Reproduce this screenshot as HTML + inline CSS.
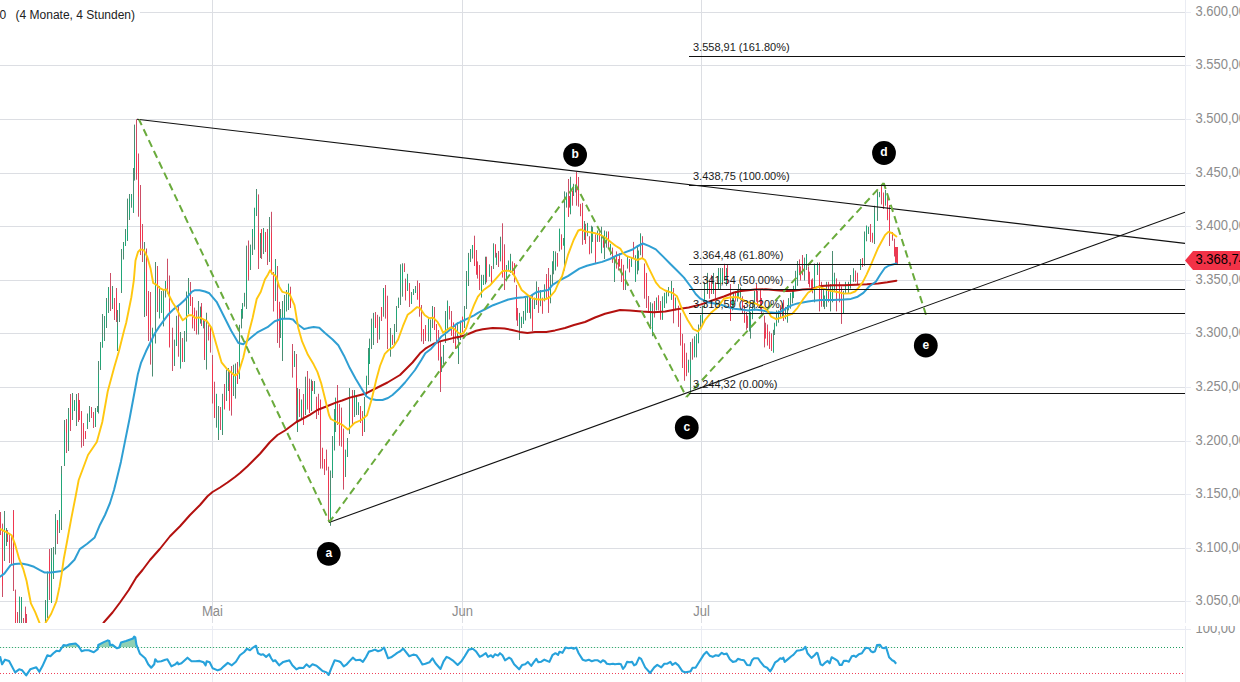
<!DOCTYPE html>
<html><head><meta charset="utf-8"><style>
html,body{margin:0;padding:0;background:#fff;}
body{width:1240px;height:682px;overflow:hidden;}
svg{display:block;}
text{font-family:"Liberation Sans",sans-serif;}
.ax{font-size:13px;fill:#8c8c8c;}
.fib{font-size:11px;fill:#1a1a1a;}
.lbl{font-size:12px;font-weight:bold;fill:#fff;}
.lg{font-size:12px;fill:#222;}
.pt{font-size:13px;fill:#000;}
</style></head><body>
<svg width="1240" height="682" viewBox="0 0 1240 682">
<defs><clipPath id="cm"><rect x="0" y="0" width="1185" height="623"/></clipPath></defs>
<rect width="1240" height="682" fill="#fff"/>
<rect x="0" y="12" width="1185" height="1" fill="#dcdee3"/>
<rect x="1186" y="12" width="5" height="1" fill="#eaecf3"/>
<rect x="0" y="65" width="1185" height="1" fill="#dcdee3"/>
<rect x="1186" y="65" width="5" height="1" fill="#eaecf3"/>
<rect x="0" y="119" width="1185" height="1" fill="#dcdee3"/>
<rect x="1186" y="119" width="5" height="1" fill="#eaecf3"/>
<rect x="0" y="173" width="1185" height="1" fill="#dcdee3"/>
<rect x="1186" y="173" width="5" height="1" fill="#eaecf3"/>
<rect x="0" y="226" width="1185" height="1" fill="#dcdee3"/>
<rect x="1186" y="226" width="5" height="1" fill="#eaecf3"/>
<rect x="0" y="280" width="1185" height="1" fill="#dcdee3"/>
<rect x="1186" y="280" width="5" height="1" fill="#eaecf3"/>
<rect x="0" y="333" width="1185" height="1" fill="#dcdee3"/>
<rect x="1186" y="333" width="5" height="1" fill="#eaecf3"/>
<rect x="0" y="387" width="1185" height="1" fill="#dcdee3"/>
<rect x="1186" y="387" width="5" height="1" fill="#eaecf3"/>
<rect x="0" y="441" width="1185" height="1" fill="#dcdee3"/>
<rect x="1186" y="441" width="5" height="1" fill="#eaecf3"/>
<rect x="0" y="494" width="1185" height="1" fill="#dcdee3"/>
<rect x="1186" y="494" width="5" height="1" fill="#eaecf3"/>
<rect x="0" y="548" width="1185" height="1" fill="#dcdee3"/>
<rect x="1186" y="548" width="5" height="1" fill="#eaecf3"/>
<rect x="0" y="601" width="1185" height="1" fill="#dcdee3"/>
<rect x="1186" y="601" width="5" height="1" fill="#eaecf3"/>
<rect x="212" y="0" width="1" height="623" fill="#dcdee3"/>
<rect x="212" y="626" width="1" height="56" fill="#eaecf3"/>
<rect x="462" y="0" width="1" height="623" fill="#dcdee3"/>
<rect x="462" y="626" width="1" height="56" fill="#eaecf3"/>
<rect x="701" y="0" width="1" height="623" fill="#dcdee3"/>
<rect x="701" y="626" width="1" height="56" fill="#eaecf3"/>
<text transform="translate(212.5 616) scale(1 1.08)" text-anchor="middle" class="ax">Mai</text>
<text transform="translate(462.5 616) scale(1 1.08)" text-anchor="middle" class="ax">Jun</text>
<text transform="translate(701.5 616) scale(1 1.08)" text-anchor="middle" class="ax">Jul</text>
<g clip-path="url(#cm)">
<rect x="0" y="512" width="1" height="23" fill="#cc4e66"/>
<rect x="0" y="518.74" width="1" height="10.95" fill="#f03650"/>
<rect x="2" y="523.6" width="1" height="73.4" fill="#cc4e66"/>
<rect x="2" y="533.44" width="1" height="52.27" fill="#f03650"/>
<rect x="4" y="511" width="1" height="50" fill="#4c8c72"/>
<rect x="4" y="525.57" width="1" height="25.2" fill="#21a677"/>
<rect x="6" y="528" width="1" height="18" fill="#4c8c72"/>
<rect x="6" y="534.06" width="1" height="6.16" fill="#21a677"/>
<rect x="7" y="530" width="1" height="12" fill="#cc4e66"/>
<rect x="7" y="534.14" width="1" height="6.78" fill="#f03650"/>
<rect x="9" y="534" width="1" height="29" fill="#cc4e66"/>
<rect x="9" y="540.18" width="1" height="8.61" fill="#f03650"/>
<rect x="11" y="536" width="1" height="29" fill="#cc4e66"/>
<rect x="11" y="552.55" width="1" height="8.56" fill="#f03650"/>
<rect x="13" y="510" width="1" height="81" fill="#cc4e66"/>
<rect x="13" y="511.37" width="1" height="48.33" fill="#f03650"/>
<rect x="15" y="589.6" width="1" height="33.4" fill="#cc4e66"/>
<rect x="15" y="597.94" width="1" height="24.75" fill="#f03650"/>
<rect x="17" y="612" width="1" height="11" fill="#cc4e66"/>
<rect x="17" y="614.86" width="1" height="6.35" fill="#f03650"/>
<rect x="19" y="596.6" width="1" height="26.4" fill="#4c8c72"/>
<rect x="19" y="596.87" width="1" height="8.68" fill="#21a677"/>
<rect x="21" y="597" width="1" height="26" fill="#4c8c72"/>
<rect x="21" y="597.75" width="1" height="13.37" fill="#21a677"/>
<rect x="23" y="618" width="1" height="5" fill="#cc4e66"/>
<rect x="23" y="618.79" width="1" height="1.73" fill="#f03650"/>
<rect x="25" y="606.6" width="1" height="16.4" fill="#cc4e66"/>
<rect x="25" y="612.19" width="1" height="4.35" fill="#f03650"/>
<rect x="26" y="614" width="1" height="9" fill="#cc4e66"/>
<rect x="26" y="618.02" width="1" height="4.23" fill="#f03650"/>
<rect x="45" y="600" width="1" height="23" fill="#4c8c72"/>
<rect x="45" y="607.22" width="1" height="11.72" fill="#21a677"/>
<rect x="47" y="571.5" width="1" height="46.5" fill="#4c8c72"/>
<rect x="47" y="586.91" width="1" height="23.24" fill="#21a677"/>
<rect x="49" y="549" width="1" height="51" fill="#cc4e66"/>
<rect x="49" y="556.4" width="1" height="24.41" fill="#f03650"/>
<rect x="51" y="548" width="1" height="55" fill="#4c8c72"/>
<rect x="51" y="561.75" width="1" height="41.19" fill="#21a677"/>
<rect x="53" y="547" width="1" height="32" fill="#4c8c72"/>
<rect x="53" y="554.47" width="1" height="21.44" fill="#21a677"/>
<rect x="55" y="514" width="1" height="40.5" fill="#4c8c72"/>
<rect x="55" y="519.51" width="1" height="16.51" fill="#21a677"/>
<rect x="57" y="520" width="1" height="24" fill="#cc4e66"/>
<rect x="57" y="521.02" width="1" height="9.47" fill="#f03650"/>
<rect x="59" y="510" width="1" height="23" fill="#4c8c72"/>
<rect x="59" y="513.38" width="1" height="14.56" fill="#21a677"/>
<rect x="61" y="466" width="1" height="64" fill="#4c8c72"/>
<rect x="61" y="474.08" width="1" height="43.09" fill="#21a677"/>
<rect x="64" y="420" width="1" height="46" fill="#4c8c72"/>
<rect x="64" y="430.56" width="1" height="33.53" fill="#21a677"/>
<rect x="66" y="419" width="1" height="34" fill="#cc4e66"/>
<rect x="66" y="424.35" width="1" height="8.51" fill="#f03650"/>
<rect x="68" y="408" width="1" height="43" fill="#4c8c72"/>
<rect x="68" y="413.96" width="1" height="30.32" fill="#21a677"/>
<rect x="70" y="394" width="1" height="37" fill="#cc4e66"/>
<rect x="70" y="397.82" width="1" height="27.39" fill="#f03650"/>
<rect x="72" y="393" width="1" height="27" fill="#4c8c72"/>
<rect x="72" y="405.13" width="1" height="7.74" fill="#21a677"/>
<rect x="74" y="400" width="1" height="11" fill="#4c8c72"/>
<rect x="74" y="401.07" width="1" height="7.03" fill="#21a677"/>
<rect x="76" y="394" width="1" height="32" fill="#4c8c72"/>
<rect x="76" y="401.52" width="1" height="9.39" fill="#21a677"/>
<rect x="78" y="393" width="1" height="29" fill="#cc4e66"/>
<rect x="78" y="398.89" width="1" height="21.23" fill="#f03650"/>
<rect x="79" y="400" width="1" height="20" fill="#cc4e66"/>
<rect x="79" y="403.41" width="1" height="6.18" fill="#f03650"/>
<rect x="81" y="411" width="1" height="36.6" fill="#cc4e66"/>
<rect x="81" y="412.53" width="1" height="11" fill="#f03650"/>
<rect x="83" y="423" width="1" height="23" fill="#cc4e66"/>
<rect x="83" y="424.44" width="1" height="14.92" fill="#f03650"/>
<rect x="85" y="431" width="1" height="8" fill="#cc4e66"/>
<rect x="85" y="432.68" width="1" height="4.24" fill="#f03650"/>
<rect x="87" y="413.5" width="1" height="15.5" fill="#4c8c72"/>
<rect x="87" y="420.93" width="1" height="5.35" fill="#21a677"/>
<rect x="89" y="406" width="1" height="16" fill="#4c8c72"/>
<rect x="89" y="413.05" width="1" height="5.05" fill="#21a677"/>
<rect x="91" y="407" width="1" height="11" fill="#cc4e66"/>
<rect x="91" y="410.2" width="1" height="3.39" fill="#f03650"/>
<rect x="93" y="412" width="1" height="16" fill="#cc4e66"/>
<rect x="93" y="414.78" width="1" height="5.7" fill="#f03650"/>
<rect x="95" y="408" width="1" height="19" fill="#4c8c72"/>
<rect x="95" y="412.04" width="1" height="13.97" fill="#21a677"/>
<rect x="97" y="406" width="1" height="6" fill="#4c8c72"/>
<rect x="97" y="409.17" width="1" height="2.41" fill="#21a677"/>
<rect x="98" y="361" width="1" height="52.5" fill="#4c8c72"/>
<rect x="98" y="374.34" width="1" height="18.66" fill="#21a677"/>
<rect x="100" y="342" width="1" height="28" fill="#4c8c72"/>
<rect x="100" y="347.8" width="1" height="18.96" fill="#21a677"/>
<rect x="102" y="314" width="1" height="33.6" fill="#4c8c72"/>
<rect x="102" y="337.26" width="1" height="10.09" fill="#21a677"/>
<rect x="104" y="316" width="1" height="25" fill="#4c8c72"/>
<rect x="104" y="320.15" width="1" height="8.92" fill="#21a677"/>
<rect x="106" y="298" width="1" height="30" fill="#4c8c72"/>
<rect x="106" y="301.59" width="1" height="19.09" fill="#21a677"/>
<rect x="108" y="287" width="1" height="26" fill="#4c8c72"/>
<rect x="108" y="288.15" width="1" height="10.35" fill="#21a677"/>
<rect x="110" y="273" width="1" height="38" fill="#cc4e66"/>
<rect x="110" y="288.61" width="1" height="11.21" fill="#f03650"/>
<rect x="112" y="286" width="1" height="23" fill="#4c8c72"/>
<rect x="112" y="294.69" width="1" height="8.54" fill="#21a677"/>
<rect x="114" y="298" width="1" height="22" fill="#cc4e66"/>
<rect x="114" y="303.62" width="1" height="9.59" fill="#f03650"/>
<rect x="116" y="288" width="1" height="34" fill="#cc4e66"/>
<rect x="116" y="292.45" width="1" height="24.81" fill="#f03650"/>
<rect x="117" y="310" width="1" height="41" fill="#4c8c72"/>
<rect x="117" y="326.44" width="1" height="22.03" fill="#21a677"/>
<rect x="119" y="303" width="1" height="19" fill="#4c8c72"/>
<rect x="119" y="304.93" width="1" height="6.49" fill="#21a677"/>
<rect x="121" y="249" width="1" height="44" fill="#4c8c72"/>
<rect x="121" y="259.64" width="1" height="30.99" fill="#21a677"/>
<rect x="123" y="242" width="1" height="17.5" fill="#4c8c72"/>
<rect x="123" y="244.08" width="1" height="6.56" fill="#21a677"/>
<rect x="125" y="229" width="1" height="17" fill="#4c8c72"/>
<rect x="125" y="235.08" width="1" height="10.54" fill="#21a677"/>
<rect x="127" y="198.6" width="1" height="42.4" fill="#4c8c72"/>
<rect x="127" y="224.85" width="1" height="14.77" fill="#21a677"/>
<rect x="129" y="194" width="1" height="26" fill="#4c8c72"/>
<rect x="129" y="198.85" width="1" height="17.97" fill="#21a677"/>
<rect x="131" y="194" width="1" height="13.7" fill="#4c8c72"/>
<rect x="131" y="194.77" width="1" height="6.31" fill="#21a677"/>
<rect x="133" y="168" width="1" height="45" fill="#4c8c72"/>
<rect x="133" y="199.65" width="1" height="12.12" fill="#21a677"/>
<rect x="134" y="124.6" width="1" height="56" fill="#4c8c72"/>
<rect x="134" y="149.49" width="1" height="20.68" fill="#21a677"/>
<rect x="136" y="119.2" width="1" height="60.5" fill="#cc4e66"/>
<rect x="136" y="150.17" width="1" height="22.9" fill="#f03650"/>
<rect x="138" y="153.5" width="1" height="63.2" fill="#cc4e66"/>
<rect x="138" y="161.88" width="1" height="34.65" fill="#f03650"/>
<rect x="140" y="185" width="1" height="70" fill="#cc4e66"/>
<rect x="140" y="218.4" width="1" height="23.64" fill="#f03650"/>
<rect x="142" y="224" width="1" height="38" fill="#cc4e66"/>
<rect x="142" y="230.21" width="1" height="10.81" fill="#f03650"/>
<rect x="144" y="242" width="1" height="75" fill="#4c8c72"/>
<rect x="144" y="272.07" width="1" height="39.73" fill="#21a677"/>
<rect x="146" y="248.5" width="1" height="67.5" fill="#cc4e66"/>
<rect x="146" y="256.88" width="1" height="37.61" fill="#f03650"/>
<rect x="148" y="291" width="1" height="50" fill="#cc4e66"/>
<rect x="148" y="293.97" width="1" height="35.43" fill="#f03650"/>
<rect x="150" y="292" width="1" height="72.6" fill="#cc4e66"/>
<rect x="150" y="306.5" width="1" height="18.75" fill="#f03650"/>
<rect x="152" y="327.7" width="1" height="48.8" fill="#4c8c72"/>
<rect x="152" y="329.26" width="1" height="23.08" fill="#21a677"/>
<rect x="155" y="262" width="1" height="81.5" fill="#4c8c72"/>
<rect x="155" y="281.89" width="1" height="27.56" fill="#21a677"/>
<rect x="157" y="266" width="1" height="46" fill="#cc4e66"/>
<rect x="157" y="268.81" width="1" height="24.66" fill="#f03650"/>
<rect x="159" y="286" width="1" height="32.5" fill="#4c8c72"/>
<rect x="159" y="302.47" width="1" height="14.01" fill="#21a677"/>
<rect x="161" y="291" width="1" height="22" fill="#4c8c72"/>
<rect x="161" y="294.75" width="1" height="16.29" fill="#21a677"/>
<rect x="163" y="289" width="1" height="37.4" fill="#4c8c72"/>
<rect x="163" y="297.84" width="1" height="22.28" fill="#21a677"/>
<rect x="165" y="281" width="1" height="16.5" fill="#4c8c72"/>
<rect x="165" y="281.39" width="1" height="5.28" fill="#21a677"/>
<rect x="167" y="258.7" width="1" height="35.3" fill="#cc4e66"/>
<rect x="167" y="282.51" width="1" height="9.14" fill="#f03650"/>
<rect x="169" y="275.5" width="1" height="72" fill="#cc4e66"/>
<rect x="169" y="303.19" width="1" height="43.23" fill="#f03650"/>
<rect x="172" y="327.7" width="1" height="43.3" fill="#cc4e66"/>
<rect x="172" y="348.07" width="1" height="11.29" fill="#f03650"/>
<rect x="174" y="339.6" width="1" height="26.4" fill="#4c8c72"/>
<rect x="174" y="349.41" width="1" height="12.97" fill="#21a677"/>
<rect x="176" y="315.8" width="1" height="30.2" fill="#4c8c72"/>
<rect x="176" y="333.62" width="1" height="12.37" fill="#21a677"/>
<rect x="178" y="306" width="1" height="50.7" fill="#cc4e66"/>
<rect x="178" y="325.72" width="1" height="14.58" fill="#f03650"/>
<rect x="180" y="332" width="1" height="36.6" fill="#4c8c72"/>
<rect x="180" y="344.57" width="1" height="22.64" fill="#21a677"/>
<rect x="182" y="338" width="1" height="24" fill="#cc4e66"/>
<rect x="182" y="344.44" width="1" height="14.85" fill="#f03650"/>
<rect x="184" y="331" width="1" height="31" fill="#4c8c72"/>
<rect x="184" y="341.02" width="1" height="20.05" fill="#21a677"/>
<rect x="186" y="291.5" width="1" height="50.1" fill="#4c8c72"/>
<rect x="186" y="311.21" width="1" height="21.34" fill="#21a677"/>
<rect x="188" y="278" width="1" height="36" fill="#4c8c72"/>
<rect x="188" y="287.39" width="1" height="25.22" fill="#21a677"/>
<rect x="190" y="282" width="1" height="24" fill="#cc4e66"/>
<rect x="190" y="292.27" width="1" height="11.01" fill="#f03650"/>
<rect x="192" y="297" width="1" height="31.4" fill="#cc4e66"/>
<rect x="192" y="302.72" width="1" height="21.41" fill="#f03650"/>
<rect x="194" y="307.6" width="1" height="23.4" fill="#cc4e66"/>
<rect x="194" y="311.51" width="1" height="13.16" fill="#f03650"/>
<rect x="196" y="310.5" width="1" height="24" fill="#cc4e66"/>
<rect x="196" y="317.2" width="1" height="12.99" fill="#f03650"/>
<rect x="198" y="301" width="1" height="33.5" fill="#4c8c72"/>
<rect x="198" y="316.21" width="1" height="9.72" fill="#21a677"/>
<rect x="200" y="306.6" width="1" height="17" fill="#4c8c72"/>
<rect x="200" y="310.39" width="1" height="12.69" fill="#21a677"/>
<rect x="201" y="303" width="1" height="23" fill="#cc4e66"/>
<rect x="201" y="306.45" width="1" height="14.12" fill="#f03650"/>
<rect x="203" y="320" width="1" height="8.4" fill="#4c8c72"/>
<rect x="203" y="321.87" width="1" height="5.19" fill="#21a677"/>
<rect x="204" y="321" width="1" height="39" fill="#cc4e66"/>
<rect x="204" y="338.32" width="1" height="18.34" fill="#f03650"/>
<rect x="206" y="312.7" width="1" height="56.9" fill="#4c8c72"/>
<rect x="206" y="342.93" width="1" height="16.61" fill="#21a677"/>
<rect x="208" y="324.8" width="1" height="15.7" fill="#cc4e66"/>
<rect x="208" y="331.74" width="1" height="4.16" fill="#f03650"/>
<rect x="210" y="326" width="1" height="26.6" fill="#cc4e66"/>
<rect x="210" y="329.12" width="1" height="13.05" fill="#f03650"/>
<rect x="212" y="355" width="1" height="48.5" fill="#cc4e66"/>
<rect x="212" y="364.67" width="1" height="29.06" fill="#f03650"/>
<rect x="214" y="381.7" width="1" height="36.3" fill="#cc4e66"/>
<rect x="214" y="396.49" width="1" height="20.23" fill="#f03650"/>
<rect x="216" y="393.8" width="1" height="33.9" fill="#4c8c72"/>
<rect x="216" y="394.04" width="1" height="12.81" fill="#21a677"/>
<rect x="218" y="406" width="1" height="34" fill="#4c8c72"/>
<rect x="218" y="419.82" width="1" height="13.62" fill="#21a677"/>
<rect x="220" y="407" width="1" height="23" fill="#cc4e66"/>
<rect x="220" y="409.53" width="1" height="8.08" fill="#f03650"/>
<rect x="222" y="393.8" width="1" height="41.2" fill="#4c8c72"/>
<rect x="222" y="401.88" width="1" height="28.96" fill="#21a677"/>
<rect x="224" y="384" width="1" height="25.5" fill="#cc4e66"/>
<rect x="224" y="396.03" width="1" height="12.01" fill="#f03650"/>
<rect x="226" y="369.6" width="1" height="31.4" fill="#4c8c72"/>
<rect x="226" y="381.86" width="1" height="12.98" fill="#21a677"/>
<rect x="228" y="368" width="1" height="23" fill="#4c8c72"/>
<rect x="228" y="374.45" width="1" height="8.03" fill="#21a677"/>
<rect x="229" y="371" width="1" height="39.7" fill="#cc4e66"/>
<rect x="229" y="383.59" width="1" height="25.92" fill="#f03650"/>
<rect x="231" y="366" width="1" height="49.6" fill="#cc4e66"/>
<rect x="231" y="371.91" width="1" height="34.23" fill="#f03650"/>
<rect x="233" y="364.7" width="1" height="31.3" fill="#4c8c72"/>
<rect x="233" y="369.24" width="1" height="16.95" fill="#21a677"/>
<rect x="235" y="363.5" width="1" height="35.1" fill="#4c8c72"/>
<rect x="235" y="375.38" width="1" height="11.16" fill="#21a677"/>
<rect x="237" y="362" width="1" height="22" fill="#cc4e66"/>
<rect x="237" y="368.19" width="1" height="14.71" fill="#f03650"/>
<rect x="239" y="324.8" width="1" height="54.2" fill="#4c8c72"/>
<rect x="239" y="345.11" width="1" height="32.82" fill="#21a677"/>
<rect x="241" y="309" width="1" height="19.4" fill="#4c8c72"/>
<rect x="241" y="311.01" width="1" height="7.53" fill="#21a677"/>
<rect x="242" y="303" width="1" height="15.7" fill="#4c8c72"/>
<rect x="242" y="305.27" width="1" height="7.46" fill="#21a677"/>
<rect x="244" y="292.8" width="1" height="13.8" fill="#4c8c72"/>
<rect x="244" y="296.47" width="1" height="4.93" fill="#21a677"/>
<rect x="246" y="245.6" width="1" height="63.4" fill="#4c8c72"/>
<rect x="246" y="259.29" width="1" height="35.69" fill="#21a677"/>
<rect x="248" y="240.5" width="1" height="40" fill="#cc4e66"/>
<rect x="248" y="260.38" width="1" height="16.31" fill="#f03650"/>
<rect x="250" y="244.6" width="1" height="25.4" fill="#4c8c72"/>
<rect x="250" y="247.58" width="1" height="18.82" fill="#21a677"/>
<rect x="252" y="229" width="1" height="26" fill="#4c8c72"/>
<rect x="252" y="229.58" width="1" height="7.47" fill="#21a677"/>
<rect x="254" y="207.7" width="1" height="42" fill="#4c8c72"/>
<rect x="254" y="208.25" width="1" height="28.83" fill="#21a677"/>
<rect x="256" y="189" width="1" height="27" fill="#4c8c72"/>
<rect x="256" y="195.1" width="1" height="16.32" fill="#21a677"/>
<rect x="258" y="194.4" width="1" height="74.6" fill="#cc4e66"/>
<rect x="258" y="229.56" width="1" height="30.18" fill="#f03650"/>
<rect x="260" y="233" width="1" height="25" fill="#4c8c72"/>
<rect x="260" y="235.52" width="1" height="6.49" fill="#21a677"/>
<rect x="261" y="229" width="1" height="30" fill="#cc4e66"/>
<rect x="261" y="229.39" width="1" height="14.32" fill="#f03650"/>
<rect x="263" y="228" width="1" height="26" fill="#4c8c72"/>
<rect x="263" y="230.07" width="1" height="17.29" fill="#21a677"/>
<rect x="265" y="232" width="1" height="20" fill="#cc4e66"/>
<rect x="265" y="232.64" width="1" height="6.41" fill="#f03650"/>
<rect x="267" y="229" width="1" height="36" fill="#cc4e66"/>
<rect x="267" y="236" width="1" height="20.33" fill="#f03650"/>
<rect x="269" y="217" width="1" height="45" fill="#4c8c72"/>
<rect x="269" y="229.82" width="1" height="25.42" fill="#21a677"/>
<rect x="271" y="211.8" width="1" height="62.6" fill="#cc4e66"/>
<rect x="271" y="232.58" width="1" height="40.92" fill="#f03650"/>
<rect x="273" y="272" width="1" height="39.5" fill="#cc4e66"/>
<rect x="273" y="275.21" width="1" height="23.39" fill="#f03650"/>
<rect x="275" y="259" width="1" height="42" fill="#4c8c72"/>
<rect x="275" y="262.85" width="1" height="20.48" fill="#21a677"/>
<rect x="277" y="266" width="1" height="77" fill="#cc4e66"/>
<rect x="277" y="293.07" width="1" height="19.66" fill="#f03650"/>
<rect x="279" y="301.8" width="1" height="46" fill="#cc4e66"/>
<rect x="279" y="305.04" width="1" height="27.93" fill="#f03650"/>
<rect x="280" y="309" width="1" height="29" fill="#4c8c72"/>
<rect x="280" y="315.15" width="1" height="11.2" fill="#21a677"/>
<rect x="282" y="301" width="1" height="60" fill="#4c8c72"/>
<rect x="282" y="313.53" width="1" height="35.92" fill="#21a677"/>
<rect x="284" y="295" width="1" height="24" fill="#4c8c72"/>
<rect x="284" y="303.04" width="1" height="13.37" fill="#21a677"/>
<rect x="286" y="290" width="1" height="21.5" fill="#4c8c72"/>
<rect x="286" y="299.42" width="1" height="9.61" fill="#21a677"/>
<rect x="288" y="283.6" width="1" height="26.4" fill="#4c8c72"/>
<rect x="288" y="284.28" width="1" height="18.56" fill="#21a677"/>
<rect x="290" y="286.7" width="1" height="21.3" fill="#cc4e66"/>
<rect x="290" y="291.07" width="1" height="15.26" fill="#f03650"/>
<rect x="292" y="344" width="1" height="33.6" fill="#cc4e66"/>
<rect x="292" y="354.44" width="1" height="10.58" fill="#f03650"/>
<rect x="294" y="351" width="1" height="16" fill="#4c8c72"/>
<rect x="294" y="357.37" width="1" height="9" fill="#21a677"/>
<rect x="296" y="354" width="1" height="67" fill="#cc4e66"/>
<rect x="296" y="375.4" width="1" height="29.37" fill="#f03650"/>
<rect x="297" y="388" width="1" height="44" fill="#4c8c72"/>
<rect x="297" y="398.88" width="1" height="30.35" fill="#21a677"/>
<rect x="299" y="389" width="1" height="28" fill="#cc4e66"/>
<rect x="299" y="392.61" width="1" height="20.22" fill="#f03650"/>
<rect x="301" y="399.5" width="1" height="20.5" fill="#4c8c72"/>
<rect x="301" y="401.28" width="1" height="11.8" fill="#21a677"/>
<rect x="303" y="394" width="1" height="31" fill="#cc4e66"/>
<rect x="303" y="403.87" width="1" height="18.94" fill="#f03650"/>
<rect x="305" y="376.7" width="1" height="38.3" fill="#4c8c72"/>
<rect x="305" y="388.5" width="1" height="21.86" fill="#21a677"/>
<rect x="307" y="371" width="1" height="38.5" fill="#cc4e66"/>
<rect x="307" y="393.29" width="1" height="13.73" fill="#f03650"/>
<rect x="309" y="378.6" width="1" height="34.4" fill="#cc4e66"/>
<rect x="309" y="387.33" width="1" height="25.46" fill="#f03650"/>
<rect x="311" y="379.5" width="1" height="31.5" fill="#4c8c72"/>
<rect x="311" y="391.49" width="1" height="16.33" fill="#21a677"/>
<rect x="312" y="381" width="1" height="10" fill="#cc4e66"/>
<rect x="312" y="386.37" width="1" height="4.1" fill="#f03650"/>
<rect x="314" y="381" width="1" height="13" fill="#4c8c72"/>
<rect x="314" y="382.46" width="1" height="8.81" fill="#21a677"/>
<rect x="316" y="396.7" width="1" height="22.3" fill="#cc4e66"/>
<rect x="316" y="403.67" width="1" height="6.5" fill="#f03650"/>
<rect x="318" y="393.8" width="1" height="21.2" fill="#cc4e66"/>
<rect x="318" y="401.53" width="1" height="11.13" fill="#f03650"/>
<rect x="320" y="399.5" width="1" height="69.1" fill="#cc4e66"/>
<rect x="320" y="400.49" width="1" height="34.12" fill="#f03650"/>
<rect x="322" y="447.7" width="1" height="20.9" fill="#cc4e66"/>
<rect x="322" y="448.16" width="1" height="13.68" fill="#f03650"/>
<rect x="324" y="459" width="1" height="16" fill="#cc4e66"/>
<rect x="324" y="459.97" width="1" height="10.4" fill="#f03650"/>
<rect x="326" y="449.6" width="1" height="20.9" fill="#cc4e66"/>
<rect x="326" y="459.19" width="1" height="8.73" fill="#f03650"/>
<rect x="328" y="466.7" width="1" height="55.3" fill="#cc4e66"/>
<rect x="328" y="472.29" width="1" height="17.71" fill="#f03650"/>
<rect x="330" y="470.5" width="1" height="55.3" fill="#4c8c72"/>
<rect x="330" y="490.18" width="1" height="28.11" fill="#21a677"/>
<rect x="332" y="436" width="1" height="42" fill="#4c8c72"/>
<rect x="332" y="445.56" width="1" height="28.14" fill="#21a677"/>
<rect x="334" y="409" width="1" height="41.5" fill="#4c8c72"/>
<rect x="334" y="414.67" width="1" height="30" fill="#21a677"/>
<rect x="335" y="397.6" width="1" height="34.4" fill="#4c8c72"/>
<rect x="335" y="398.42" width="1" height="24.93" fill="#21a677"/>
<rect x="337" y="385" width="1" height="40" fill="#cc4e66"/>
<rect x="337" y="398.47" width="1" height="14.43" fill="#f03650"/>
<rect x="339" y="404" width="1" height="41.8" fill="#cc4e66"/>
<rect x="339" y="422.43" width="1" height="16.51" fill="#f03650"/>
<rect x="341" y="407.6" width="1" height="39.1" fill="#cc4e66"/>
<rect x="341" y="416.4" width="1" height="22.26" fill="#f03650"/>
<rect x="343" y="428.6" width="1" height="61" fill="#cc4e66"/>
<rect x="343" y="439.81" width="1" height="40.98" fill="#f03650"/>
<rect x="345" y="449.6" width="1" height="27.4" fill="#4c8c72"/>
<rect x="345" y="455.81" width="1" height="11.12" fill="#21a677"/>
<rect x="347" y="438" width="1" height="19" fill="#4c8c72"/>
<rect x="347" y="443.6" width="1" height="12.78" fill="#21a677"/>
<rect x="349" y="388" width="1" height="46" fill="#4c8c72"/>
<rect x="349" y="413.28" width="1" height="16.29" fill="#21a677"/>
<rect x="352" y="390" width="1" height="35" fill="#cc4e66"/>
<rect x="352" y="394.88" width="1" height="25.7" fill="#f03650"/>
<rect x="354" y="390" width="1" height="27" fill="#4c8c72"/>
<rect x="354" y="392.52" width="1" height="14.49" fill="#21a677"/>
<rect x="356" y="395.7" width="1" height="19.3" fill="#4c8c72"/>
<rect x="356" y="400.38" width="1" height="10" fill="#21a677"/>
<rect x="358" y="402.4" width="1" height="12.6" fill="#4c8c72"/>
<rect x="358" y="402.56" width="1" height="6.96" fill="#21a677"/>
<rect x="360" y="406" width="1" height="17" fill="#cc4e66"/>
<rect x="360" y="408.33" width="1" height="12.49" fill="#f03650"/>
<rect x="362" y="411" width="1" height="25" fill="#cc4e66"/>
<rect x="362" y="422.01" width="1" height="11.26" fill="#f03650"/>
<rect x="364" y="397" width="1" height="35" fill="#4c8c72"/>
<rect x="364" y="405.05" width="1" height="18.6" fill="#21a677"/>
<rect x="366" y="375.7" width="1" height="19.3" fill="#4c8c72"/>
<rect x="366" y="376.21" width="1" height="11.49" fill="#21a677"/>
<rect x="368" y="348" width="1" height="37" fill="#4c8c72"/>
<rect x="368" y="355.36" width="1" height="19.22" fill="#21a677"/>
<rect x="369" y="338.6" width="1" height="25.4" fill="#4c8c72"/>
<rect x="369" y="344.97" width="1" height="18.5" fill="#21a677"/>
<rect x="371" y="318.6" width="1" height="30.4" fill="#4c8c72"/>
<rect x="371" y="327.45" width="1" height="11.69" fill="#21a677"/>
<rect x="373" y="312.9" width="1" height="32.1" fill="#4c8c72"/>
<rect x="373" y="322.46" width="1" height="10.06" fill="#21a677"/>
<rect x="375" y="312" width="1" height="16" fill="#cc4e66"/>
<rect x="375" y="316.93" width="1" height="10.53" fill="#f03650"/>
<rect x="377" y="314.8" width="1" height="28.2" fill="#cc4e66"/>
<rect x="377" y="319.38" width="1" height="13.77" fill="#f03650"/>
<rect x="379" y="316.7" width="1" height="22.8" fill="#4c8c72"/>
<rect x="379" y="325.92" width="1" height="7.88" fill="#21a677"/>
<rect x="381" y="307" width="1" height="14" fill="#cc4e66"/>
<rect x="381" y="307.52" width="1" height="9.98" fill="#f03650"/>
<rect x="383" y="288" width="1" height="28.7" fill="#4c8c72"/>
<rect x="383" y="288.24" width="1" height="18.36" fill="#21a677"/>
<rect x="385" y="285" width="1" height="33.6" fill="#cc4e66"/>
<rect x="385" y="289.99" width="1" height="11.66" fill="#f03650"/>
<rect x="387" y="295.7" width="1" height="53.3" fill="#cc4e66"/>
<rect x="387" y="302.68" width="1" height="31.63" fill="#f03650"/>
<rect x="390" y="328" width="1" height="28.7" fill="#4c8c72"/>
<rect x="390" y="338.18" width="1" height="12.27" fill="#21a677"/>
<rect x="392" y="334.8" width="1" height="10.2" fill="#cc4e66"/>
<rect x="392" y="340" width="1" height="3.08" fill="#f03650"/>
<rect x="394" y="324" width="1" height="20" fill="#4c8c72"/>
<rect x="394" y="331.03" width="1" height="6.23" fill="#21a677"/>
<rect x="396" y="306" width="1" height="26" fill="#4c8c72"/>
<rect x="396" y="309.21" width="1" height="9.76" fill="#21a677"/>
<rect x="398" y="297.6" width="1" height="10.4" fill="#4c8c72"/>
<rect x="398" y="299.8" width="1" height="5.36" fill="#21a677"/>
<rect x="400" y="264.3" width="1" height="40.7" fill="#4c8c72"/>
<rect x="400" y="273.76" width="1" height="17.82" fill="#21a677"/>
<rect x="402" y="263.3" width="1" height="33.4" fill="#4c8c72"/>
<rect x="402" y="265.89" width="1" height="17.19" fill="#21a677"/>
<rect x="404" y="263.3" width="1" height="8.7" fill="#cc4e66"/>
<rect x="404" y="266.86" width="1" height="3.06" fill="#f03650"/>
<rect x="405" y="278.6" width="1" height="21.9" fill="#cc4e66"/>
<rect x="405" y="283.6" width="1" height="12.47" fill="#f03650"/>
<rect x="407" y="273.8" width="1" height="17.2" fill="#4c8c72"/>
<rect x="407" y="277.21" width="1" height="11.62" fill="#21a677"/>
<rect x="409" y="283" width="1" height="24" fill="#cc4e66"/>
<rect x="409" y="284.8" width="1" height="16.28" fill="#f03650"/>
<rect x="411" y="292" width="1" height="12" fill="#4c8c72"/>
<rect x="411" y="295.69" width="1" height="7.44" fill="#21a677"/>
<rect x="413" y="289" width="1" height="6" fill="#4c8c72"/>
<rect x="413" y="289.57" width="1" height="4.21" fill="#21a677"/>
<rect x="415" y="286" width="1" height="7" fill="#4c8c72"/>
<rect x="415" y="289.83" width="1" height="2.85" fill="#21a677"/>
<rect x="417" y="280.5" width="1" height="19" fill="#cc4e66"/>
<rect x="417" y="292.66" width="1" height="6.82" fill="#f03650"/>
<rect x="419" y="283" width="1" height="33.7" fill="#cc4e66"/>
<rect x="419" y="284.38" width="1" height="23.38" fill="#f03650"/>
<rect x="421" y="305" width="1" height="36.4" fill="#cc4e66"/>
<rect x="421" y="321.67" width="1" height="13.46" fill="#f03650"/>
<rect x="423" y="329" width="1" height="15" fill="#cc4e66"/>
<rect x="423" y="329.9" width="1" height="5.7" fill="#f03650"/>
<rect x="425" y="325" width="1" height="16" fill="#cc4e66"/>
<rect x="425" y="327.25" width="1" height="10.66" fill="#f03650"/>
<rect x="428" y="318.6" width="1" height="22.8" fill="#4c8c72"/>
<rect x="428" y="319.62" width="1" height="14.71" fill="#21a677"/>
<rect x="430" y="319.5" width="1" height="21.9" fill="#4c8c72"/>
<rect x="430" y="327.73" width="1" height="9.89" fill="#21a677"/>
<rect x="432" y="306" width="1" height="22" fill="#4c8c72"/>
<rect x="432" y="309.28" width="1" height="5.7" fill="#21a677"/>
<rect x="434" y="307" width="1" height="23" fill="#cc4e66"/>
<rect x="434" y="315.57" width="1" height="13.6" fill="#f03650"/>
<rect x="436" y="324" width="1" height="17.4" fill="#cc4e66"/>
<rect x="436" y="324.53" width="1" height="12.77" fill="#f03650"/>
<rect x="438" y="330" width="1" height="30.5" fill="#cc4e66"/>
<rect x="438" y="341.5" width="1" height="15.34" fill="#f03650"/>
<rect x="440" y="341.4" width="1" height="50.6" fill="#cc4e66"/>
<rect x="440" y="358.7" width="1" height="25.37" fill="#f03650"/>
<rect x="441" y="356.7" width="1" height="15.3" fill="#4c8c72"/>
<rect x="441" y="357.41" width="1" height="5.27" fill="#21a677"/>
<rect x="443" y="345" width="1" height="19" fill="#4c8c72"/>
<rect x="443" y="345.5" width="1" height="5.76" fill="#21a677"/>
<rect x="445" y="311" width="1" height="32" fill="#4c8c72"/>
<rect x="445" y="318.81" width="1" height="16.83" fill="#21a677"/>
<rect x="447" y="300.5" width="1" height="29.5" fill="#4c8c72"/>
<rect x="447" y="302.51" width="1" height="15.76" fill="#21a677"/>
<rect x="449" y="306" width="1" height="13.5" fill="#cc4e66"/>
<rect x="449" y="307.81" width="1" height="4.62" fill="#f03650"/>
<rect x="451" y="311" width="1" height="24.7" fill="#cc4e66"/>
<rect x="451" y="319.07" width="1" height="16.55" fill="#f03650"/>
<rect x="453" y="322.4" width="1" height="20.6" fill="#cc4e66"/>
<rect x="453" y="322.96" width="1" height="14.7" fill="#f03650"/>
<rect x="455" y="326" width="1" height="23" fill="#cc4e66"/>
<rect x="455" y="341.74" width="1" height="6.46" fill="#f03650"/>
<rect x="457" y="322.4" width="1" height="17.1" fill="#4c8c72"/>
<rect x="457" y="329.19" width="1" height="8.23" fill="#21a677"/>
<rect x="458" y="335.7" width="1" height="28.3" fill="#4c8c72"/>
<rect x="458" y="343.45" width="1" height="11.7" fill="#21a677"/>
<rect x="460" y="320.5" width="1" height="19.5" fill="#4c8c72"/>
<rect x="460" y="324.63" width="1" height="9.9" fill="#21a677"/>
<rect x="462" y="316.7" width="1" height="15.3" fill="#cc4e66"/>
<rect x="462" y="316.79" width="1" height="8.42" fill="#f03650"/>
<rect x="464" y="306" width="1" height="22" fill="#4c8c72"/>
<rect x="464" y="313.42" width="1" height="13.21" fill="#21a677"/>
<rect x="466" y="271" width="1" height="38" fill="#4c8c72"/>
<rect x="466" y="282.37" width="1" height="12.94" fill="#21a677"/>
<rect x="468" y="252.9" width="1" height="33.1" fill="#4c8c72"/>
<rect x="468" y="258" width="1" height="20.51" fill="#21a677"/>
<rect x="470" y="249" width="1" height="13" fill="#4c8c72"/>
<rect x="470" y="250.4" width="1" height="4.52" fill="#21a677"/>
<rect x="472" y="245" width="1" height="13.6" fill="#4c8c72"/>
<rect x="472" y="245.1" width="1" height="6.89" fill="#21a677"/>
<rect x="474" y="235.7" width="1" height="30.3" fill="#cc4e66"/>
<rect x="474" y="243.07" width="1" height="21.11" fill="#f03650"/>
<rect x="476" y="250" width="1" height="24.8" fill="#cc4e66"/>
<rect x="476" y="258.49" width="1" height="14.94" fill="#f03650"/>
<rect x="477" y="261.4" width="1" height="17.2" fill="#cc4e66"/>
<rect x="477" y="264.43" width="1" height="9.71" fill="#f03650"/>
<rect x="479" y="265" width="1" height="25" fill="#cc4e66"/>
<rect x="479" y="270.68" width="1" height="13.75" fill="#f03650"/>
<rect x="481" y="274.8" width="1" height="22.8" fill="#4c8c72"/>
<rect x="481" y="279.55" width="1" height="16.9" fill="#21a677"/>
<rect x="483" y="274.8" width="1" height="10.2" fill="#4c8c72"/>
<rect x="483" y="280.57" width="1" height="3.87" fill="#21a677"/>
<rect x="485" y="256.7" width="1" height="27.6" fill="#4c8c72"/>
<rect x="485" y="264.81" width="1" height="17.17" fill="#21a677"/>
<rect x="486" y="256.7" width="1" height="25.7" fill="#cc4e66"/>
<rect x="486" y="260.27" width="1" height="16.89" fill="#f03650"/>
<rect x="489" y="264.3" width="1" height="12.4" fill="#4c8c72"/>
<rect x="489" y="267.59" width="1" height="8.66" fill="#21a677"/>
<rect x="491" y="266" width="1" height="17" fill="#cc4e66"/>
<rect x="491" y="271.25" width="1" height="10.16" fill="#f03650"/>
<rect x="493" y="243.3" width="1" height="25.7" fill="#4c8c72"/>
<rect x="493" y="247.13" width="1" height="16.26" fill="#21a677"/>
<rect x="495" y="244.3" width="1" height="13.3" fill="#cc4e66"/>
<rect x="495" y="244.66" width="1" height="8.13" fill="#f03650"/>
<rect x="496" y="252.9" width="1" height="12.1" fill="#4c8c72"/>
<rect x="496" y="256.19" width="1" height="5.09" fill="#21a677"/>
<rect x="498" y="251" width="1" height="16" fill="#cc4e66"/>
<rect x="498" y="255.24" width="1" height="4.08" fill="#f03650"/>
<rect x="500" y="236.7" width="1" height="24.7" fill="#4c8c72"/>
<rect x="500" y="243.34" width="1" height="14.06" fill="#21a677"/>
<rect x="502" y="223.3" width="1" height="54.3" fill="#cc4e66"/>
<rect x="502" y="255.82" width="1" height="19.88" fill="#f03650"/>
<rect x="504" y="244.3" width="1" height="45.7" fill="#cc4e66"/>
<rect x="504" y="250.74" width="1" height="26.65" fill="#f03650"/>
<rect x="506" y="265" width="1" height="16.4" fill="#4c8c72"/>
<rect x="506" y="268.92" width="1" height="9.51" fill="#21a677"/>
<rect x="508" y="260.5" width="1" height="10.5" fill="#4c8c72"/>
<rect x="508" y="262.48" width="1" height="5.42" fill="#21a677"/>
<rect x="510" y="253.8" width="1" height="19.1" fill="#4c8c72"/>
<rect x="510" y="256.87" width="1" height="14.32" fill="#21a677"/>
<rect x="512" y="261.4" width="1" height="13.4" fill="#cc4e66"/>
<rect x="512" y="265.48" width="1" height="8.05" fill="#f03650"/>
<rect x="514" y="263.3" width="1" height="19.1" fill="#cc4e66"/>
<rect x="514" y="263.41" width="1" height="14.13" fill="#f03650"/>
<rect x="516" y="285" width="1" height="35.5" fill="#cc4e66"/>
<rect x="516" y="296.6" width="1" height="19.8" fill="#f03650"/>
<rect x="517" y="308" width="1" height="18" fill="#cc4e66"/>
<rect x="517" y="312.49" width="1" height="6.81" fill="#f03650"/>
<rect x="519" y="312.9" width="1" height="27.1" fill="#4c8c72"/>
<rect x="519" y="316.74" width="1" height="7.46" fill="#21a677"/>
<rect x="521" y="316.7" width="1" height="11.3" fill="#4c8c72"/>
<rect x="521" y="317.33" width="1" height="4.95" fill="#21a677"/>
<rect x="523" y="311" width="1" height="13" fill="#4c8c72"/>
<rect x="523" y="318.35" width="1" height="4.88" fill="#21a677"/>
<rect x="525" y="297.6" width="1" height="22.9" fill="#4c8c72"/>
<rect x="525" y="303.12" width="1" height="12.02" fill="#21a677"/>
<rect x="527" y="294.8" width="1" height="18.1" fill="#4c8c72"/>
<rect x="527" y="297.54" width="1" height="13.28" fill="#21a677"/>
<rect x="529" y="296.7" width="1" height="16.2" fill="#cc4e66"/>
<rect x="529" y="299.31" width="1" height="12.11" fill="#f03650"/>
<rect x="530" y="297.6" width="1" height="21" fill="#4c8c72"/>
<rect x="530" y="298.15" width="1" height="13.75" fill="#21a677"/>
<rect x="532" y="294.8" width="1" height="36.2" fill="#cc4e66"/>
<rect x="532" y="307.2" width="1" height="19.87" fill="#f03650"/>
<rect x="534" y="297.6" width="1" height="11.4" fill="#4c8c72"/>
<rect x="534" y="305.31" width="1" height="3.11" fill="#21a677"/>
<rect x="536" y="281.4" width="1" height="23.6" fill="#4c8c72"/>
<rect x="536" y="288.86" width="1" height="7.79" fill="#21a677"/>
<rect x="538" y="287" width="1" height="25.9" fill="#cc4e66"/>
<rect x="538" y="295.54" width="1" height="8.67" fill="#f03650"/>
<rect x="540" y="290" width="1" height="16.2" fill="#4c8c72"/>
<rect x="540" y="290.42" width="1" height="9" fill="#21a677"/>
<rect x="542" y="297.6" width="1" height="16.2" fill="#cc4e66"/>
<rect x="542" y="299.49" width="1" height="11.71" fill="#f03650"/>
<rect x="544" y="284.3" width="1" height="17.1" fill="#4c8c72"/>
<rect x="544" y="289.27" width="1" height="8.78" fill="#21a677"/>
<rect x="546" y="274" width="1" height="25.5" fill="#cc4e66"/>
<rect x="546" y="278.13" width="1" height="11.04" fill="#f03650"/>
<rect x="548" y="268" width="1" height="44.9" fill="#cc4e66"/>
<rect x="548" y="278.63" width="1" height="25.93" fill="#f03650"/>
<rect x="550" y="274.8" width="1" height="28.5" fill="#4c8c72"/>
<rect x="550" y="287.22" width="1" height="11.17" fill="#21a677"/>
<rect x="552" y="261.4" width="1" height="22.9" fill="#4c8c72"/>
<rect x="552" y="261.59" width="1" height="9.11" fill="#21a677"/>
<rect x="553" y="251" width="1" height="23.3" fill="#4c8c72"/>
<rect x="553" y="251.63" width="1" height="8.68" fill="#21a677"/>
<rect x="555" y="251.4" width="1" height="19.1" fill="#4c8c72"/>
<rect x="555" y="261.08" width="1" height="6.27" fill="#21a677"/>
<rect x="557" y="253" width="1" height="13.7" fill="#cc4e66"/>
<rect x="557" y="259.82" width="1" height="6.1" fill="#f03650"/>
<rect x="559" y="228.6" width="1" height="22.8" fill="#4c8c72"/>
<rect x="559" y="229.03" width="1" height="14.23" fill="#21a677"/>
<rect x="561" y="234.3" width="1" height="15.2" fill="#cc4e66"/>
<rect x="561" y="237.97" width="1" height="11.31" fill="#f03650"/>
<rect x="563" y="238" width="1" height="7.7" fill="#4c8c72"/>
<rect x="563" y="242.97" width="1" height="2.21" fill="#21a677"/>
<rect x="564" y="191.4" width="1" height="79.1" fill="#4c8c72"/>
<rect x="564" y="211.62" width="1" height="36.76" fill="#21a677"/>
<rect x="566" y="192.4" width="1" height="15.2" fill="#4c8c72"/>
<rect x="566" y="193.38" width="1" height="11.2" fill="#21a677"/>
<rect x="568" y="179" width="1" height="38" fill="#cc4e66"/>
<rect x="568" y="196.39" width="1" height="19.44" fill="#f03650"/>
<rect x="569" y="196" width="1" height="11.6" fill="#cc4e66"/>
<rect x="569" y="198.11" width="1" height="7.09" fill="#f03650"/>
<rect x="570" y="176.8" width="1" height="37.5" fill="#4c8c72"/>
<rect x="570" y="184.78" width="1" height="27.73" fill="#21a677"/>
<rect x="572" y="190.5" width="1" height="15.2" fill="#cc4e66"/>
<rect x="572" y="191.28" width="1" height="8.39" fill="#f03650"/>
<rect x="573" y="183.8" width="1" height="12.2" fill="#4c8c72"/>
<rect x="573" y="186.23" width="1" height="6.86" fill="#21a677"/>
<rect x="575" y="184.8" width="1" height="7.6" fill="#4c8c72"/>
<rect x="575" y="185.06" width="1" height="2.67" fill="#21a677"/>
<rect x="576" y="171.8" width="1" height="33.9" fill="#cc4e66"/>
<rect x="576" y="173.85" width="1" height="17.43" fill="#f03650"/>
<rect x="578" y="177" width="1" height="29.7" fill="#cc4e66"/>
<rect x="578" y="187.48" width="1" height="14" fill="#f03650"/>
<rect x="580" y="203.8" width="1" height="12.4" fill="#cc4e66"/>
<rect x="580" y="205.5" width="1" height="5.92" fill="#f03650"/>
<rect x="582" y="202.9" width="1" height="41.9" fill="#cc4e66"/>
<rect x="582" y="210.97" width="1" height="22.67" fill="#f03650"/>
<rect x="584" y="221" width="1" height="19" fill="#4c8c72"/>
<rect x="584" y="224.64" width="1" height="12.14" fill="#21a677"/>
<rect x="585" y="223.8" width="1" height="20" fill="#cc4e66"/>
<rect x="585" y="228.59" width="1" height="14.98" fill="#f03650"/>
<rect x="587" y="222.9" width="1" height="13.3" fill="#4c8c72"/>
<rect x="587" y="224.11" width="1" height="8.21" fill="#21a677"/>
<rect x="589" y="236.2" width="1" height="18.1" fill="#cc4e66"/>
<rect x="589" y="247.4" width="1" height="5.56" fill="#f03650"/>
<rect x="591" y="225.7" width="1" height="27.6" fill="#4c8c72"/>
<rect x="591" y="231.87" width="1" height="17.72" fill="#21a677"/>
<rect x="592" y="226.7" width="1" height="15.2" fill="#4c8c72"/>
<rect x="592" y="229.05" width="1" height="6.53" fill="#21a677"/>
<rect x="595" y="234.3" width="1" height="28.6" fill="#cc4e66"/>
<rect x="595" y="240.88" width="1" height="16.95" fill="#f03650"/>
<rect x="597" y="230.5" width="1" height="11.4" fill="#4c8c72"/>
<rect x="597" y="233.78" width="1" height="6.22" fill="#21a677"/>
<rect x="599" y="232.4" width="1" height="9.5" fill="#cc4e66"/>
<rect x="599" y="233.07" width="1" height="5.95" fill="#f03650"/>
<rect x="601" y="226.7" width="1" height="26.6" fill="#4c8c72"/>
<rect x="601" y="243" width="1" height="9.96" fill="#21a677"/>
<rect x="603" y="238.1" width="1" height="9.5" fill="#cc4e66"/>
<rect x="603" y="240.54" width="1" height="6.72" fill="#f03650"/>
<rect x="604" y="230.5" width="1" height="28.5" fill="#4c8c72"/>
<rect x="604" y="231.77" width="1" height="7.69" fill="#21a677"/>
<rect x="606" y="231.4" width="1" height="16.2" fill="#4c8c72"/>
<rect x="606" y="235.63" width="1" height="6.24" fill="#21a677"/>
<rect x="608" y="231.4" width="1" height="16.2" fill="#cc4e66"/>
<rect x="608" y="232.13" width="1" height="9.1" fill="#f03650"/>
<rect x="610" y="243.8" width="1" height="11.4" fill="#4c8c72"/>
<rect x="610" y="244.2" width="1" height="5.94" fill="#21a677"/>
<rect x="612" y="247.6" width="1" height="15.3" fill="#cc4e66"/>
<rect x="612" y="254.91" width="1" height="4.49" fill="#f03650"/>
<rect x="614" y="257" width="1" height="25" fill="#4c8c72"/>
<rect x="614" y="264.49" width="1" height="13.13" fill="#21a677"/>
<rect x="616" y="251.4" width="1" height="17.2" fill="#cc4e66"/>
<rect x="616" y="256.04" width="1" height="7.51" fill="#f03650"/>
<rect x="618" y="259" width="1" height="11.5" fill="#cc4e66"/>
<rect x="618" y="261.55" width="1" height="4.09" fill="#f03650"/>
<rect x="619" y="253.3" width="1" height="13.4" fill="#cc4e66"/>
<rect x="619" y="257.54" width="1" height="8.34" fill="#f03650"/>
<rect x="621" y="259" width="1" height="23" fill="#cc4e66"/>
<rect x="621" y="260.96" width="1" height="6.6" fill="#f03650"/>
<rect x="623" y="264.8" width="1" height="25.2" fill="#cc4e66"/>
<rect x="623" y="270.23" width="1" height="16.5" fill="#f03650"/>
<rect x="625" y="270.5" width="1" height="19.5" fill="#4c8c72"/>
<rect x="625" y="272.02" width="1" height="12.37" fill="#21a677"/>
<rect x="627" y="257" width="1" height="11.6" fill="#4c8c72"/>
<rect x="627" y="258.61" width="1" height="5.36" fill="#21a677"/>
<rect x="629" y="259" width="1" height="13.4" fill="#cc4e66"/>
<rect x="629" y="260.71" width="1" height="8.78" fill="#f03650"/>
<rect x="631" y="257" width="1" height="9.7" fill="#4c8c72"/>
<rect x="631" y="261.06" width="1" height="5.6" fill="#21a677"/>
<rect x="633" y="241.9" width="1" height="17.1" fill="#cc4e66"/>
<rect x="633" y="247.41" width="1" height="7.06" fill="#f03650"/>
<rect x="635" y="255.2" width="1" height="26.7" fill="#4c8c72"/>
<rect x="635" y="264.47" width="1" height="16.64" fill="#21a677"/>
<rect x="637" y="245.7" width="1" height="28.6" fill="#4c8c72"/>
<rect x="637" y="251.36" width="1" height="13.27" fill="#21a677"/>
<rect x="638" y="250.5" width="1" height="20" fill="#4c8c72"/>
<rect x="638" y="262.78" width="1" height="5.97" fill="#21a677"/>
<rect x="640" y="233.3" width="1" height="21.9" fill="#4c8c72"/>
<rect x="640" y="234.59" width="1" height="6.33" fill="#21a677"/>
<rect x="642" y="236.2" width="1" height="22.8" fill="#cc4e66"/>
<rect x="642" y="241.37" width="1" height="12.13" fill="#f03650"/>
<rect x="644" y="263.5" width="1" height="35.2" fill="#cc4e66"/>
<rect x="644" y="267.79" width="1" height="20.86" fill="#f03650"/>
<rect x="646" y="272.9" width="1" height="35.1" fill="#cc4e66"/>
<rect x="646" y="273.87" width="1" height="22.39" fill="#f03650"/>
<rect x="648" y="296" width="1" height="16.8" fill="#cc4e66"/>
<rect x="648" y="303.16" width="1" height="5.99" fill="#f03650"/>
<rect x="650" y="302.2" width="1" height="27" fill="#4c8c72"/>
<rect x="650" y="308.02" width="1" height="7.85" fill="#21a677"/>
<rect x="652" y="303.4" width="1" height="32.8" fill="#4c8c72"/>
<rect x="652" y="312.22" width="1" height="20.09" fill="#21a677"/>
<rect x="654" y="301" width="1" height="16.5" fill="#cc4e66"/>
<rect x="654" y="302.44" width="1" height="6.46" fill="#f03650"/>
<rect x="656" y="297.5" width="1" height="12.9" fill="#4c8c72"/>
<rect x="656" y="302.85" width="1" height="5.53" fill="#21a677"/>
<rect x="658" y="295.2" width="1" height="15.2" fill="#cc4e66"/>
<rect x="658" y="296.21" width="1" height="6.58" fill="#f03650"/>
<rect x="660" y="301" width="1" height="18.8" fill="#cc4e66"/>
<rect x="660" y="305.23" width="1" height="11.37" fill="#f03650"/>
<rect x="662" y="296.3" width="1" height="23.5" fill="#4c8c72"/>
<rect x="662" y="302.72" width="1" height="16.67" fill="#21a677"/>
<rect x="664" y="292.8" width="1" height="15.2" fill="#4c8c72"/>
<rect x="664" y="294.75" width="1" height="10.74" fill="#21a677"/>
<rect x="666" y="291.6" width="1" height="11.8" fill="#4c8c72"/>
<rect x="666" y="292.85" width="1" height="7.69" fill="#21a677"/>
<rect x="668" y="287" width="1" height="9.3" fill="#4c8c72"/>
<rect x="668" y="289.2" width="1" height="3.8" fill="#21a677"/>
<rect x="671" y="281" width="1" height="18.9" fill="#4c8c72"/>
<rect x="671" y="285.78" width="1" height="13.56" fill="#21a677"/>
<rect x="673" y="288" width="1" height="35.3" fill="#cc4e66"/>
<rect x="673" y="295.99" width="1" height="13.21" fill="#f03650"/>
<rect x="675" y="297.5" width="1" height="12.9" fill="#4c8c72"/>
<rect x="675" y="300.16" width="1" height="5.58" fill="#21a677"/>
<rect x="678" y="305.7" width="1" height="21.2" fill="#cc4e66"/>
<rect x="678" y="310.24" width="1" height="9.49" fill="#f03650"/>
<rect x="680" y="312.8" width="1" height="32.8" fill="#cc4e66"/>
<rect x="680" y="324.87" width="1" height="11.4" fill="#f03650"/>
<rect x="682" y="333.9" width="1" height="34.1" fill="#cc4e66"/>
<rect x="682" y="340.38" width="1" height="22.12" fill="#f03650"/>
<rect x="684" y="343.3" width="1" height="37.5" fill="#cc4e66"/>
<rect x="684" y="350.3" width="1" height="25.06" fill="#f03650"/>
<rect x="686" y="352.7" width="1" height="23.5" fill="#cc4e66"/>
<rect x="686" y="364.5" width="1" height="7.95" fill="#f03650"/>
<rect x="688" y="359.7" width="1" height="12.9" fill="#4c8c72"/>
<rect x="688" y="360.82" width="1" height="8.91" fill="#21a677"/>
<rect x="690" y="342" width="1" height="51" fill="#4c8c72"/>
<rect x="690" y="361.43" width="1" height="13.32" fill="#21a677"/>
<rect x="692" y="338.6" width="1" height="21.1" fill="#cc4e66"/>
<rect x="692" y="344.32" width="1" height="11.02" fill="#f03650"/>
<rect x="694" y="336.2" width="1" height="21.2" fill="#4c8c72"/>
<rect x="694" y="339.88" width="1" height="15.54" fill="#21a677"/>
<rect x="696" y="333.9" width="1" height="23.5" fill="#4c8c72"/>
<rect x="696" y="334.42" width="1" height="15.33" fill="#21a677"/>
<rect x="698" y="324.5" width="1" height="18.8" fill="#4c8c72"/>
<rect x="698" y="331.56" width="1" height="9.84" fill="#21a677"/>
<rect x="700" y="315" width="1" height="11.9" fill="#4c8c72"/>
<rect x="700" y="315.69" width="1" height="3.48" fill="#21a677"/>
<rect x="702" y="305.7" width="1" height="18.8" fill="#4c8c72"/>
<rect x="702" y="312.15" width="1" height="11.63" fill="#21a677"/>
<rect x="704" y="282.3" width="1" height="25.7" fill="#4c8c72"/>
<rect x="704" y="293.83" width="1" height="7.51" fill="#21a677"/>
<rect x="707" y="272.9" width="1" height="21.1" fill="#4c8c72"/>
<rect x="707" y="283.57" width="1" height="6.79" fill="#21a677"/>
<rect x="709" y="282.3" width="1" height="16.4" fill="#cc4e66"/>
<rect x="709" y="284.01" width="1" height="9.42" fill="#f03650"/>
<rect x="711" y="275.2" width="1" height="18.8" fill="#cc4e66"/>
<rect x="711" y="284.41" width="1" height="6.77" fill="#f03650"/>
<rect x="713" y="272.9" width="1" height="21.1" fill="#4c8c72"/>
<rect x="713" y="280.79" width="1" height="10.78" fill="#21a677"/>
<rect x="715" y="282.3" width="1" height="16.4" fill="#cc4e66"/>
<rect x="715" y="285.36" width="1" height="7.33" fill="#f03650"/>
<rect x="718" y="268" width="1" height="21.3" fill="#4c8c72"/>
<rect x="718" y="271.81" width="1" height="15.64" fill="#21a677"/>
<rect x="720" y="268" width="1" height="21" fill="#4c8c72"/>
<rect x="720" y="273.68" width="1" height="10.43" fill="#21a677"/>
<rect x="722" y="268" width="1" height="16" fill="#4c8c72"/>
<rect x="722" y="272.41" width="1" height="9.77" fill="#21a677"/>
<rect x="724" y="263.8" width="1" height="16.7" fill="#cc4e66"/>
<rect x="724" y="265.81" width="1" height="11.82" fill="#f03650"/>
<rect x="726" y="268" width="1" height="17.8" fill="#4c8c72"/>
<rect x="726" y="272" width="1" height="11.8" fill="#21a677"/>
<rect x="727" y="264.6" width="1" height="19.4" fill="#cc4e66"/>
<rect x="727" y="269.65" width="1" height="13.13" fill="#f03650"/>
<rect x="730" y="284" width="1" height="37" fill="#cc4e66"/>
<rect x="730" y="294.95" width="1" height="24.68" fill="#f03650"/>
<rect x="732" y="298" width="1" height="12.4" fill="#4c8c72"/>
<rect x="732" y="300.15" width="1" height="9.04" fill="#21a677"/>
<rect x="733" y="292.8" width="1" height="14.1" fill="#4c8c72"/>
<rect x="733" y="297.69" width="1" height="7.22" fill="#21a677"/>
<rect x="735" y="291" width="1" height="10.6" fill="#cc4e66"/>
<rect x="735" y="292.56" width="1" height="6.9" fill="#f03650"/>
<rect x="737" y="289.3" width="1" height="12.3" fill="#4c8c72"/>
<rect x="737" y="290.27" width="1" height="5.66" fill="#21a677"/>
<rect x="738" y="284" width="1" height="14" fill="#4c8c72"/>
<rect x="738" y="289.26" width="1" height="8.69" fill="#21a677"/>
<rect x="740" y="287.5" width="1" height="12.4" fill="#4c8c72"/>
<rect x="740" y="288.67" width="1" height="5.43" fill="#21a677"/>
<rect x="742" y="296.3" width="1" height="17.7" fill="#cc4e66"/>
<rect x="742" y="301.17" width="1" height="6.23" fill="#f03650"/>
<rect x="744" y="305" width="1" height="17.7" fill="#cc4e66"/>
<rect x="744" y="315.37" width="1" height="7.01" fill="#f03650"/>
<rect x="746" y="312" width="1" height="17.8" fill="#cc4e66"/>
<rect x="746" y="315.96" width="1" height="4.98" fill="#f03650"/>
<rect x="747" y="315.7" width="1" height="12.3" fill="#cc4e66"/>
<rect x="747" y="321.22" width="1" height="3.78" fill="#f03650"/>
<rect x="749" y="307" width="1" height="24.5" fill="#4c8c72"/>
<rect x="749" y="308.59" width="1" height="15.63" fill="#21a677"/>
<rect x="750" y="312" width="1" height="26.6" fill="#4c8c72"/>
<rect x="750" y="320.77" width="1" height="7.48" fill="#21a677"/>
<rect x="752" y="301.6" width="1" height="17.6" fill="#4c8c72"/>
<rect x="752" y="308.93" width="1" height="9.54" fill="#21a677"/>
<rect x="754" y="291" width="1" height="19.4" fill="#4c8c72"/>
<rect x="754" y="292.54" width="1" height="5.2" fill="#21a677"/>
<rect x="756" y="284" width="1" height="17.6" fill="#cc4e66"/>
<rect x="756" y="286.52" width="1" height="6.02" fill="#f03650"/>
<rect x="757" y="291" width="1" height="15.9" fill="#cc4e66"/>
<rect x="757" y="298.21" width="1" height="5.85" fill="#f03650"/>
<rect x="760" y="289.3" width="1" height="21.1" fill="#cc4e66"/>
<rect x="760" y="291.44" width="1" height="11.55" fill="#f03650"/>
<rect x="761" y="298" width="1" height="16" fill="#cc4e66"/>
<rect x="761" y="300.96" width="1" height="5.48" fill="#f03650"/>
<rect x="764" y="315.7" width="1" height="31.7" fill="#cc4e66"/>
<rect x="764" y="331.64" width="1" height="10.66" fill="#f03650"/>
<rect x="765" y="322.7" width="1" height="15.9" fill="#cc4e66"/>
<rect x="765" y="327.88" width="1" height="6.45" fill="#f03650"/>
<rect x="767" y="324.5" width="1" height="21.1" fill="#cc4e66"/>
<rect x="767" y="327.95" width="1" height="13.9" fill="#f03650"/>
<rect x="769" y="331.5" width="1" height="17.5" fill="#cc4e66"/>
<rect x="769" y="341.12" width="1" height="6.65" fill="#f03650"/>
<rect x="771" y="333.3" width="1" height="17.7" fill="#cc4e66"/>
<rect x="771" y="335.07" width="1" height="12.52" fill="#f03650"/>
<rect x="773" y="329.8" width="1" height="22.9" fill="#4c8c72"/>
<rect x="773" y="340.24" width="1" height="11.99" fill="#21a677"/>
<rect x="774" y="322.7" width="1" height="12.3" fill="#4c8c72"/>
<rect x="774" y="324.08" width="1" height="6.04" fill="#21a677"/>
<rect x="776" y="310.4" width="1" height="15.9" fill="#4c8c72"/>
<rect x="776" y="321.32" width="1" height="4.37" fill="#21a677"/>
<rect x="778" y="310.4" width="1" height="12.3" fill="#4c8c72"/>
<rect x="778" y="312.05" width="1" height="8" fill="#21a677"/>
<rect x="780" y="305.1" width="1" height="12.4" fill="#cc4e66"/>
<rect x="780" y="308.21" width="1" height="6.37" fill="#f03650"/>
<rect x="782" y="303.4" width="1" height="14.1" fill="#4c8c72"/>
<rect x="782" y="311.96" width="1" height="5.46" fill="#21a677"/>
<rect x="783" y="299.9" width="1" height="21.1" fill="#cc4e66"/>
<rect x="783" y="302.01" width="1" height="12.21" fill="#f03650"/>
<rect x="785" y="306.9" width="1" height="12.3" fill="#4c8c72"/>
<rect x="785" y="311.23" width="1" height="3.14" fill="#21a677"/>
<rect x="787" y="305" width="1" height="17.7" fill="#4c8c72"/>
<rect x="787" y="312.96" width="1" height="7.71" fill="#21a677"/>
<rect x="788" y="298.1" width="1" height="12.3" fill="#4c8c72"/>
<rect x="788" y="301.03" width="1" height="7.46" fill="#21a677"/>
<rect x="790" y="292.8" width="1" height="15.9" fill="#4c8c72"/>
<rect x="790" y="294.47" width="1" height="5.23" fill="#21a677"/>
<rect x="792" y="289.3" width="1" height="14.1" fill="#4c8c72"/>
<rect x="792" y="291.45" width="1" height="5.79" fill="#21a677"/>
<rect x="793" y="285.8" width="1" height="12.3" fill="#4c8c72"/>
<rect x="793" y="287.8" width="1" height="8.42" fill="#21a677"/>
<rect x="795" y="270.8" width="1" height="18.5" fill="#4c8c72"/>
<rect x="795" y="278.73" width="1" height="10.52" fill="#21a677"/>
<rect x="797" y="261" width="1" height="24.8" fill="#4c8c72"/>
<rect x="797" y="269.18" width="1" height="9.5" fill="#21a677"/>
<rect x="799" y="259.4" width="1" height="15.8" fill="#cc4e66"/>
<rect x="799" y="267.61" width="1" height="5.14" fill="#f03650"/>
<rect x="800" y="266.4" width="1" height="14.1" fill="#cc4e66"/>
<rect x="800" y="275.08" width="1" height="3.53" fill="#f03650"/>
<rect x="802" y="255" width="1" height="20.2" fill="#cc4e66"/>
<rect x="802" y="260.43" width="1" height="13.6" fill="#f03650"/>
<rect x="804" y="257.6" width="1" height="22.9" fill="#4c8c72"/>
<rect x="804" y="261.98" width="1" height="6.67" fill="#21a677"/>
<rect x="806" y="254" width="1" height="16" fill="#4c8c72"/>
<rect x="806" y="254.61" width="1" height="9.73" fill="#21a677"/>
<rect x="808" y="266.4" width="1" height="17.6" fill="#cc4e66"/>
<rect x="808" y="270.61" width="1" height="8.62" fill="#f03650"/>
<rect x="809" y="271.7" width="1" height="15.8" fill="#cc4e66"/>
<rect x="809" y="274.22" width="1" height="11.5" fill="#f03650"/>
<rect x="811" y="279.5" width="1" height="9.1" fill="#cc4e66"/>
<rect x="811" y="280.39" width="1" height="6.18" fill="#f03650"/>
<rect x="812" y="278.4" width="1" height="14.8" fill="#cc4e66"/>
<rect x="812" y="280.59" width="1" height="9.54" fill="#f03650"/>
<rect x="814" y="263.6" width="1" height="38.7" fill="#4c8c72"/>
<rect x="814" y="264.63" width="1" height="27.41" fill="#21a677"/>
<rect x="817" y="262.5" width="1" height="12.5" fill="#4c8c72"/>
<rect x="817" y="263.38" width="1" height="8.29" fill="#21a677"/>
<rect x="819" y="262.5" width="1" height="48.9" fill="#cc4e66"/>
<rect x="819" y="274.8" width="1" height="25.51" fill="#f03650"/>
<rect x="821" y="281.8" width="1" height="25" fill="#cc4e66"/>
<rect x="821" y="295.76" width="1" height="8.22" fill="#f03650"/>
<rect x="823" y="288.6" width="1" height="18.2" fill="#4c8c72"/>
<rect x="823" y="291.96" width="1" height="7.38" fill="#21a677"/>
<rect x="824" y="295.5" width="1" height="13.6" fill="#4c8c72"/>
<rect x="824" y="298.46" width="1" height="3.92" fill="#21a677"/>
<rect x="826" y="281.8" width="1" height="25" fill="#4c8c72"/>
<rect x="826" y="291.03" width="1" height="12.09" fill="#21a677"/>
<rect x="828" y="281.8" width="1" height="20.5" fill="#cc4e66"/>
<rect x="828" y="289.83" width="1" height="8.81" fill="#f03650"/>
<rect x="830" y="284.1" width="1" height="27.3" fill="#4c8c72"/>
<rect x="830" y="291.6" width="1" height="8.27" fill="#21a677"/>
<rect x="832" y="251" width="1" height="51.3" fill="#4c8c72"/>
<rect x="832" y="276.75" width="1" height="24.67" fill="#21a677"/>
<rect x="834" y="272.7" width="1" height="18.2" fill="#4c8c72"/>
<rect x="834" y="276.69" width="1" height="12.1" fill="#21a677"/>
<rect x="836" y="278.4" width="1" height="33" fill="#cc4e66"/>
<rect x="836" y="287.66" width="1" height="8.45" fill="#f03650"/>
<rect x="839" y="281.8" width="1" height="20.5" fill="#cc4e66"/>
<rect x="839" y="283.72" width="1" height="12.4" fill="#f03650"/>
<rect x="841" y="286.4" width="1" height="37.5" fill="#cc4e66"/>
<rect x="841" y="294.44" width="1" height="19.95" fill="#f03650"/>
<rect x="843" y="290.9" width="1" height="22.7" fill="#4c8c72"/>
<rect x="843" y="307.66" width="1" height="5.79" fill="#21a677"/>
<rect x="845" y="281.8" width="1" height="11.4" fill="#4c8c72"/>
<rect x="845" y="282.63" width="1" height="7.41" fill="#21a677"/>
<rect x="848" y="281.8" width="1" height="11.4" fill="#4c8c72"/>
<rect x="848" y="283.26" width="1" height="6.36" fill="#21a677"/>
<rect x="850" y="275" width="1" height="13.6" fill="#4c8c72"/>
<rect x="850" y="279.13" width="1" height="5.96" fill="#21a677"/>
<rect x="853" y="268.2" width="1" height="13.6" fill="#4c8c72"/>
<rect x="853" y="270.96" width="1" height="5.43" fill="#21a677"/>
<rect x="855" y="270.5" width="1" height="11.3" fill="#cc4e66"/>
<rect x="855" y="274.67" width="1" height="5.04" fill="#f03650"/>
<rect x="857" y="272.7" width="1" height="11.4" fill="#cc4e66"/>
<rect x="857" y="274.12" width="1" height="4.31" fill="#f03650"/>
<rect x="860" y="259" width="1" height="11" fill="#4c8c72"/>
<rect x="860" y="260.39" width="1" height="6.77" fill="#21a677"/>
<rect x="862" y="258" width="1" height="9" fill="#cc4e66"/>
<rect x="862" y="259.41" width="1" height="6.5" fill="#f03650"/>
<rect x="864" y="231.5" width="1" height="34.3" fill="#4c8c72"/>
<rect x="864" y="235.92" width="1" height="20.99" fill="#21a677"/>
<rect x="866" y="225.5" width="1" height="15.8" fill="#4c8c72"/>
<rect x="866" y="225.99" width="1" height="10.48" fill="#21a677"/>
<rect x="868" y="226.8" width="1" height="7.2" fill="#4c8c72"/>
<rect x="868" y="227.26" width="1" height="2.31" fill="#21a677"/>
<rect x="870" y="224" width="1" height="18" fill="#cc4e66"/>
<rect x="870" y="229.24" width="1" height="10.6" fill="#f03650"/>
<rect x="872" y="232.8" width="1" height="9.9" fill="#cc4e66"/>
<rect x="872" y="235.43" width="1" height="3.37" fill="#f03650"/>
<rect x="874" y="205.7" width="1" height="38.3" fill="#4c8c72"/>
<rect x="874" y="213.23" width="1" height="25.6" fill="#21a677"/>
<rect x="877" y="191.2" width="1" height="29.7" fill="#4c8c72"/>
<rect x="877" y="195.94" width="1" height="8.76" fill="#21a677"/>
<rect x="879" y="191.9" width="1" height="5.3" fill="#4c8c72"/>
<rect x="879" y="192.34" width="1" height="1.74" fill="#21a677"/>
<rect x="881" y="186" width="1" height="18.4" fill="#cc4e66"/>
<rect x="881" y="186.73" width="1" height="8.34" fill="#f03650"/>
<rect x="883" y="192.5" width="1" height="16.5" fill="#cc4e66"/>
<rect x="883" y="194.54" width="1" height="11.72" fill="#f03650"/>
<rect x="885" y="189.9" width="1" height="15.8" fill="#4c8c72"/>
<rect x="885" y="194.95" width="1" height="7.99" fill="#21a677"/>
<rect x="887" y="193.2" width="1" height="27" fill="#cc4e66"/>
<rect x="887" y="201.33" width="1" height="17.1" fill="#f03650"/>
<rect x="889" y="205" width="1" height="41" fill="#cc4e66"/>
<rect x="889" y="212.57" width="1" height="18.16" fill="#f03650"/>
<rect x="892" y="232" width="1" height="8.7" fill="#cc4e66"/>
<rect x="892" y="232.07" width="1" height="3.97" fill="#f03650"/>
<rect x="894" y="238.7" width="1" height="17.8" fill="#cc4e66"/>
<rect x="894" y="245.55" width="1" height="8.02" fill="#f03650"/>
<rect x="895" y="247" width="3" height="17" fill="#ec3a52"/>
</g>
<g clip-path="url(#cm)" fill="none" stroke-linejoin="round" stroke-linecap="round">
<path d="M95 634 L103.75 622.5 L112.5 612.5 L120 602.5 L128.75 590 L136.25 577.5 L142.5 570 L150 560 L160 548.75 L170 536.25 L180 526.25 L190 515 L200 505 L207.5 496.25 L212.5 492 L220 487.5 L227.5 482.5 L235 477 L240 473 L247.5 466.25 L253.75 460 L260 453.75 L270 442 L277.5 435 L285 430.5 L296.4 422 L300.2 420 L309.8 414.8 L317.4 410 L326.9 406.2 L336.4 402.4 L342.1 400.5 L349.8 397.6 L357.4 395.7 L365 393.8 L375 388.75 L387.5 382.5 L400 375 L412.5 362.5 L420 353.3 L425.3 348.7 L433.2 344 L439.8 341.4 L446.4 339.8 L453 338.1 L459.6 336.8 L463.6 335.8 L469.5 333.5 L476.1 330.8 L482.7 329.2 L492.6 327.9 L500 328.2 L504.5 328.5 L512.1 330 L519.8 331.9 L527.4 332.9 L535 331.9 L546.4 331.9 L555 330.4 L565 328 L574 325 L585 322 L595 317.5 L605 313.75 L620 310 L630 310.4 L641.7 311.6 L653.5 312.3 L665.2 311.6 L677 309.2 L688.7 307.5 L700.4 304.6 L712.2 300.5 L723.9 296.5 L734.1 292.5 L741.1 291.1 L748.2 290.2 L755.2 289.6 L765.8 289.3 L776.3 290.2 L786.9 291.1 L793.9 290.7 L802.7 289.6 L811.5 288.9 L821.4 285.9 L832.7 285.2 L844.1 285.2 L855.5 284.8 L866.8 284.3 L878.2 283.5 L887.3 282.3 L896.4 280.7" stroke="#b3110f" stroke-width="2.0"/>
<path d="M0 576.8 L4.3 573.6 L10.6 565.1 L14.9 564 L21.3 563.4 L27.7 564.7 L34 566.8 L40.4 570.4 L44.7 572.6 L51.1 572.6 L61.7 571.1 L68.1 566.2 L74.5 559.8 L79.8 549.1 L87.2 543.8 L94.7 537.4 L100 524.7 L105 515 L110 503 L114 490 L116.5 480 L120.9 461.9 L125.3 439.9 L129.7 418 L135.3 388 L137.9 373.9 L141.1 362.6 L146 351.3 L150.8 341.6 L154.8 333.5 L158.9 327.1 L163.7 320.6 L168.5 314.2 L173.4 309.4 L179.8 304.5 L185 299.7 L187.7 296.6 L192 291.6 L195 290.2 L199.7 290.2 L205 291.5 L209.4 293.3 L216.6 301.8 L223.9 316.3 L231.2 330.8 L238.4 343 L243.3 344.2 L250.5 338.1 L257.8 332.1 L267.5 327.2 L274.7 321.2 L282 318.7 L289.3 318.7 L293 319.5 L296.4 323.3 L304 329 L307.9 328.1 L313.6 327.1 L319.3 327.7 L325 332.9 L332.6 339.5 L338.3 345.2 L344 355.7 L349.8 368.1 L355.5 378.6 L361.2 388.1 L366.25 396.25 L370 398.75 L376 400 L382.5 400 L388 398 L392.5 395 L399 389 L405 382.5 L415 370 L421.3 360 L425.3 353.3 L431.2 348.7 L436.5 342.7 L441.1 336.8 L446.4 332.8 L451.7 328.2 L457 323.6 L462.9 320.9 L469.5 317.6 L474.1 315.3 L477.9 312.9 L485.5 309 L493.1 305.2 L500.7 302.4 L508.3 299.5 L516 298 L523.6 297.2 L531.2 295.7 L536.9 291.9 L542.6 291 L548.3 290 L552.6 284.8 L560.2 280 L567.9 276.2 L573.6 272.4 L579.3 268.6 L586.9 265.7 L594.5 263.8 L602.1 261.9 L609.8 259 L617.4 255.2 L625 252.4 L632.6 249.5 L637 246.5 L642.9 243.5 L648.8 245.9 L655.8 249.4 L662.9 256.4 L669.9 263.5 L677 270.5 L684 277.6 L691 287 L695.7 294 L700.4 298.7 L707.5 302.2 L714.5 303.4 L720 304.3 L727 306.9 L734.1 308.7 L741.1 309.5 L748.2 310.4 L755.2 309.5 L762.3 310.4 L769.3 312.2 L776.3 313.1 L781.6 311.3 L786.9 307.8 L792.2 305.1 L797.5 303.4 L802.7 302.5 L808 301.6 L813.3 300.7 L821.4 300 L832.7 300 L844.1 299.5 L850.9 298.9 L857.7 296.7 L863.4 292.8 L869.1 286.5 L873 283.8 L876 281.5 L880 275 L885 267.8 L889 265.5 L896.4 263.5" stroke="#2f9fd3" stroke-width="2.0"/>
<path d="M0 528.9 L6.4 532.1 L11.7 535.3 L14.9 543.8 L19.1 558.7 L23.4 569.4 L26.6 581 L28.8 592.5 L30.9 603.4 L35.1 611.9 L39.4 622.6 L42.5 630 L45.7 622.6 L51.1 614 L56.4 601.3 L59.6 586.4 L61.7 573.6 L63.8 558.7 L67 541.7 L71.3 518.3 L75.5 497 L78.7 480 L88 455 L96.8 442 L102.3 422 L107.7 391.5 L114.3 367 L118.7 352 L124.2 330 L126.2 322.7 L131.3 297.5 L133.8 280.6 L135.5 260.4 L138 252 L140.5 249.4 L143.9 250.2 L147.3 257 L150.6 268.8 L153.2 283 L156.6 284.8 L159.9 288.2 L163.3 289.9 L166.7 289.4 L169.2 295.8 L172.6 302.5 L175.9 307.6 L179.3 314.3 L182.7 320.2 L186.1 317.7 L188.6 315.2 L192 315.2 L195 317.7 L199.7 317.5 L207 321.2 L211.8 328.4 L216.6 345.4 L221.5 362.3 L227.5 369.6 L234.8 375.6 L238.4 373.2 L243.3 357.5 L249.3 330.8 L252.6 318 L256.7 299 L260.8 291.8 L264.9 279.5 L268 274.4 L270 270.3 L272 273.3 L276.2 276.4 L279.2 286.7 L282.3 291.8 L286.4 292.8 L289.5 293.8 L292.6 301 L294.5 305.2 L298.3 328.1 L302.1 341.4 L307.9 354.8 L313.6 364.3 L317.4 371.9 L321.2 383.3 L325 398.6 L329 415 L330.8 419 L336.5 422 L342.2 424.8 L347.9 429.6 L354.6 422.9 L361.3 420 L367 415.3 L369.8 405.7 L372 398 L376.2 380 L380 366 L384.8 353.8 L388.6 350 L393.3 347.1 L398.1 339.5 L402.9 326.2 L407.6 314.8 L411.4 311.9 L417.1 307.1 L420 308.1 L424.6 315 L429.2 318.3 L433.2 317.6 L437.2 321.6 L440.5 326.9 L443.1 332.8 L446.4 330.2 L450.4 327.5 L453 328.2 L455 329.5 L458.3 332.8 L460.9 334.1 L463.6 332.8 L466.2 328.2 L468.8 320.3 L470.2 315 L474 305.2 L477.9 296.7 L483.6 290 L490.2 285.2 L496.9 277.6 L502.6 271 L508.3 270.6 L512.1 271.9 L516 278.6 L521.7 290 L527.4 294.8 L533.1 298.6 L538.8 299.5 L544.5 299.5 L549.3 297.6 L555 291 L558 284 L562.1 276.2 L567.9 255.2 L573.6 240 L578.3 230.5 L581.2 229.5 L585 231.4 L590.7 232.4 L595.5 233.3 L601.2 235.2 L606 238.1 L610.7 241.9 L615.5 245.7 L620.2 248.6 L623.1 253.3 L626.9 256.2 L632.6 258.1 L637.4 260 L642.1 258.1 L645 260 L648.8 268.2 L655.8 282.3 L660 287.5 L665.2 290.5 L672.3 292.8 L677 296.3 L681.6 308.1 L687.5 319.8 L693.4 329.2 L698.1 331.5 L701.6 326.9 L705.1 319.8 L711 312.8 L716.9 308.1 L723.9 298.7 L730.6 297.2 L737.6 297.2 L742.9 299.9 L748.2 302.5 L755.2 303.4 L762.3 306.9 L767.5 310.4 L771.1 316.6 L776.3 319.2 L781.6 317.5 L786.9 315.7 L792.2 313.9 L797.5 307.8 L802.7 299.9 L808 292.8 L813.3 289.3 L818.6 286.7 L823.6 288.6 L830.5 290.9 L837.3 292 L844.1 293.6 L850.9 293.2 L855 291.5 L858 288.5 L862.8 282.2 L866.7 274.3 L870 267 L874 257.5 L878.2 247.7 L885 235.2 L888.4 231.8 L891.8 233 L896.4 236.4" stroke="#ffc70f" stroke-width="1.9"/>
</g>
<g clip-path="url(#cm)">
<line x1="137.0" y1="119.2" x2="1185" y2="243.39" stroke="#111" stroke-width="1.1"/>
<line x1="329.0" y1="522.5" x2="1185" y2="212.2" stroke="#111" stroke-width="1.1"/>
<line x1="139" y1="119.5" x2="329.5" y2="522" stroke="#6aab3c" stroke-width="2.0" stroke-dasharray="7.5 4.5" stroke-dashoffset="1.2"/>
<line x1="329.5" y1="522" x2="575.5" y2="184.5" stroke="#6aab3c" stroke-width="2.0" stroke-dasharray="7.5 4.5" stroke-dashoffset="1.2"/>
<line x1="575.5" y1="184.5" x2="686.5" y2="397" stroke="#6aab3c" stroke-width="2.0" stroke-dasharray="7.5 4.5" stroke-dashoffset="1.2"/>
<line x1="686.5" y1="397" x2="883.75" y2="183" stroke="#6aab3c" stroke-width="2.0" stroke-dasharray="7.5 4.5" stroke-dashoffset="1.2"/>
<line x1="883.75" y1="183" x2="926.9" y2="317.6" stroke="#6aab3c" stroke-width="2.0" stroke-dasharray="7.5 4.5" stroke-dashoffset="1.2"/>
<rect x="689" y="56" width="496" height="1" fill="#111"/>
<text x="693" y="51" class="fib">3.558,91 (161.80%)</text>
<rect x="689" y="185" width="496" height="1" fill="#111"/>
<text x="693" y="180" class="fib">3.438,75 (100.00%)</text>
<rect x="689" y="264" width="496" height="1" fill="#111"/>
<text x="693" y="259" class="fib">3.364,48 (61.80%)</text>
<rect x="689" y="289" width="496" height="1" fill="#111"/>
<text x="693" y="284" class="fib">3.341,54 (50.00%)</text>
<rect x="689" y="313" width="496" height="1" fill="#111"/>
<text x="693" y="308" class="fib">3.318,59 (38.20%)</text>
<rect x="689" y="393" width="496" height="1" fill="#111"/>
<text x="693" y="388" class="fib">3.244,32 (0.00%)</text>
</g>
<circle cx="328.75" cy="553.8" r="11.9" fill="#000"/>
<text x="328.75" y="557" text-anchor="middle" class="lbl">a</text>
<circle cx="575.1" cy="154.8" r="11.9" fill="#000"/>
<text x="575.1" y="158" text-anchor="middle" class="lbl">b</text>
<circle cx="686.75" cy="427.5" r="11.9" fill="#000"/>
<text x="686.75" y="430.7" text-anchor="middle" class="lbl">c</text>
<circle cx="884" cy="153" r="11.9" fill="#000"/>
<text x="884" y="156.2" text-anchor="middle" class="lbl">d</text>
<circle cx="925.8" cy="345.5" r="11.9" fill="#000"/>
<text x="925.8" y="348.7" text-anchor="middle" class="lbl">e</text>
<rect x="0" y="2" width="140" height="21" fill="#fff"/>
<text x="-0.6" y="19" class="lg">0</text>
<text x="15.6" y="19" class="lg">(4 Monate, 4 Stunden)</text>
<rect x="0" y="629" width="1185" height="1" fill="#e9ebf2"/>
<rect x="1186" y="629" width="5" height="1" fill="#eaecf3"/>
<line x1="0" y1="647.5" x2="1185" y2="647.5" stroke="#1e9e5e" stroke-width="1" stroke-dasharray="1 2"/>
<line x1="0" y1="673.5" x2="1185" y2="673.5" stroke="#f0405a" stroke-width="1" stroke-dasharray="1 2"/>
<clipPath id="rc"><rect x="0" y="600" width="1185" height="47.5"/></clipPath>
<path d="M0 656.25 L2.02 664.31 L5.04 659.68 L9.07 660.89 L15.12 672.38 L19.15 669.35 L22.18 670.36 L26.21 675.4 L30.24 669.35 L36.29 667.34 L39.31 671.77 L42.34 666.33 L47.38 655.24 L50.4 656.25 L53.43 653.23 L56.45 650.81 L59.48 651.21 L63.51 645.16 L66.53 645.56 L69.56 644.35 L75.6 643.55 L78.63 646.17 L81.65 651.21 L84.68 650.2 L88.71 650.2 L93.75 652.22 L97.78 649.19 L98.3 645 L103.8 642.1 L107.8 640.4 L109.3 641 L110 645 L112.2 644.7 L117 648.3 L119.2 647.6 L121 642.5 L126 641.1 L133.1 638.4 L134.2 636.6 L135.3 637.3 L136.4 644.7 L140 653.8 L145.16 658.27 L148.19 664.31 L151.21 667.74 L154.23 664.31 L155.24 659.27 L157.26 661.69 L161.29 661.29 L165.32 659.68 L167.34 659.27 L171.37 666.33 L175.4 664.31 L177.42 662.3 L178.43 664.31 L181.45 663.31 L187.5 657.66 L191.53 661.29 L195.56 661.29 L199.6 660.89 L203.63 662.3 L205.65 665.32 L206.65 661.29 L209.68 662.3 L212.7 668.35 L217.74 670.36 L220.77 669.35 L223.79 666.33 L227.82 662.9 L231.85 665.32 L235.89 661.69 L239.92 655.24 L243.95 652.22 L246.98 648.79 L250 650.2 L253.02 647.58 L256.05 645.77 L258.06 653.23 L261.09 654.84 L263.1 654.23 L266.13 656.85 L269.15 654.23 L271.17 658.27 L273.19 661.29 L275.2 660.28 L279.23 665.32 L283.27 661.9 L287.3 660.89 L289.31 660.28 L292.34 665.32 L296.37 669.35 L299.4 667.74 L303.43 667.94 L306.45 664.31 L309.48 666.94 L312.5 664.31 L316.53 665.73 L319.56 668.35 L322.58 670.97 L326.61 672.38 L328.63 675 L331.65 667.34 L334.68 660.28 L338.71 661.29 L340.73 662.3 L343.75 666.33 L346.77 664.31 L349.8 660.89 L352.82 657.66 L355.85 660.28 L359.88 659.68 L362.9 661.9 L365.93 657.26 L368.95 651.61 L371.98 650.81 L375 649.6 L378.02 651.21 L381.05 650.2 L384.07 647.58 L388.1 658.27 L391.13 657.26 L394.15 655.24 L397.18 652.82 L400.2 651.21 L403.23 648.59 L405.24 651.21 L409.27 656.25 L413.31 654.64 L416.33 655.24 L419.35 659.27 L422.38 664.52 L425.4 663.71 L429.44 662.3 L432.46 658.27 L435.48 663.31 L440.52 668.95 L443.55 661.29 L446.57 656.85 L449.6 658.27 L452.62 660.28 L457.66 664.92 L461.69 660.89 L464.72 656.25 L468.75 649.6 L472.78 648.79 L475.81 651.21 L479.84 656.85 L482.86 655.24 L485.89 653.23 L487.9 656.85 L490.93 655.24 L492.94 657.26 L494.96 654.23 L497.98 655.65 L500 653.23 L502.42 655.24 L505.04 660.28 L509.07 657.66 L511.09 658.87 L514.11 664.31 L519.15 669.35 L522.18 664.92 L525.2 664.31 L527.82 661.9 L531.25 665.93 L533.27 662.9 L536.29 658.87 L538.31 662.3 L541.33 661.69 L544.35 659.68 L549.4 661.9 L552.42 655.24 L555.44 653.23 L558.06 654.84 L559.48 651.81 L562.5 652.82 L565.52 647.58 L568.55 648.19 L571.57 647.78 L573.59 648.79 L576.21 647.58 L578.63 653.23 L582.66 659.68 L585.69 660.69 L588.71 659.68 L591.73 661.29 L594.76 660.28 L597.78 660.28 L600.81 662.3 L602.82 660.28 L604.84 661.29 L606.85 663.71 L609.88 664.31 L612.9 663.71 L614.92 664.31 L618.95 663.71 L620.97 664.31 L622.98 668.95 L625 666.33 L627.02 661.9 L630.04 662.3 L632.06 661.9 L634.07 665.32 L636.09 664.31 L639.11 657.66 L641.13 658.87 L645.16 667.34 L650.2 672.98 L654.23 667.34 L657.26 664.92 L661.29 667.34 L664.31 663.71 L667.34 663.71 L670.36 661.9 L672.38 664.92 L675.4 662.9 L678.43 665.32 L682.46 671.37 L685.48 672.38 L688.51 671.77 L690.52 671.37 L692.54 667.74 L695.56 667.74 L699.6 661.29 L703.63 654.84 L706.65 651.81 L709.68 655.65 L712.7 656.85 L715.73 655.24 L718.75 655.85 L721.77 652.82 L723.79 654.23 L726.81 653.63 L729.84 659.27 L732.86 661.9 L735.89 661.29 L737.9 658.87 L740.93 659.68 L743.95 660.28 L746.98 664.92 L750 665.32 L752.02 660.28 L754.03 658.27 L758.06 658.27 L760.08 661.29 L764.11 666.33 L767.14 667.74 L770.16 671.37 L772.18 668.35 L775.2 662.3 L778.23 660.28 L780.24 658.27 L782.26 658.87 L783.27 657.66 L784.68 661.9 L788.31 658.87 L791.33 656.25 L793.35 654.84 L796.77 650.81 L800 650.2 L803.43 649.19 L805.44 646.77 L807.46 653.23 L811.49 657.86 L814.52 655.24 L816.53 652.82 L817.54 653.23 L820.56 664.31 L822.58 665.32 L825.6 662.3 L827.62 660.89 L829.64 663.31 L831.65 657.26 L834.68 658.87 L837.7 660.89 L839.72 664.92 L841.73 664.92 L843.75 660.89 L846.77 660.89 L848.79 661.69 L851.81 656.25 L853.83 655.65 L855.85 656.85 L858.87 654.23 L861.9 653.23 L863.91 650.2 L865.93 647.78 L868.95 648.19 L870.97 651.21 L872.98 652.22 L875 651.21 L877.02 645.16 L880.04 644.76 L882.06 647.78 L884.07 648.19 L886.09 647.18 L889.11 657.26 L892.14 660.28 L894.15 661.29 L896.17 663.71 L896.17 647.5 L0 647.5 Z" fill="#8fd0b3" clip-path="url(#rc)"/>
<path d="M0 656.25 L2.02 664.31 L5.04 659.68 L9.07 660.89 L15.12 672.38 L19.15 669.35 L22.18 670.36 L26.21 675.4 L30.24 669.35 L36.29 667.34 L39.31 671.77 L42.34 666.33 L47.38 655.24 L50.4 656.25 L53.43 653.23 L56.45 650.81 L59.48 651.21 L63.51 645.16 L66.53 645.56 L69.56 644.35 L75.6 643.55 L78.63 646.17 L81.65 651.21 L84.68 650.2 L88.71 650.2 L93.75 652.22 L97.78 649.19 L98.3 645 L103.8 642.1 L107.8 640.4 L109.3 641 L110 645 L112.2 644.7 L117 648.3 L119.2 647.6 L121 642.5 L126 641.1 L133.1 638.4 L134.2 636.6 L135.3 637.3 L136.4 644.7 L140 653.8 L145.16 658.27 L148.19 664.31 L151.21 667.74 L154.23 664.31 L155.24 659.27 L157.26 661.69 L161.29 661.29 L165.32 659.68 L167.34 659.27 L171.37 666.33 L175.4 664.31 L177.42 662.3 L178.43 664.31 L181.45 663.31 L187.5 657.66 L191.53 661.29 L195.56 661.29 L199.6 660.89 L203.63 662.3 L205.65 665.32 L206.65 661.29 L209.68 662.3 L212.7 668.35 L217.74 670.36 L220.77 669.35 L223.79 666.33 L227.82 662.9 L231.85 665.32 L235.89 661.69 L239.92 655.24 L243.95 652.22 L246.98 648.79 L250 650.2 L253.02 647.58 L256.05 645.77 L258.06 653.23 L261.09 654.84 L263.1 654.23 L266.13 656.85 L269.15 654.23 L271.17 658.27 L273.19 661.29 L275.2 660.28 L279.23 665.32 L283.27 661.9 L287.3 660.89 L289.31 660.28 L292.34 665.32 L296.37 669.35 L299.4 667.74 L303.43 667.94 L306.45 664.31 L309.48 666.94 L312.5 664.31 L316.53 665.73 L319.56 668.35 L322.58 670.97 L326.61 672.38 L328.63 675 L331.65 667.34 L334.68 660.28 L338.71 661.29 L340.73 662.3 L343.75 666.33 L346.77 664.31 L349.8 660.89 L352.82 657.66 L355.85 660.28 L359.88 659.68 L362.9 661.9 L365.93 657.26 L368.95 651.61 L371.98 650.81 L375 649.6 L378.02 651.21 L381.05 650.2 L384.07 647.58 L388.1 658.27 L391.13 657.26 L394.15 655.24 L397.18 652.82 L400.2 651.21 L403.23 648.59 L405.24 651.21 L409.27 656.25 L413.31 654.64 L416.33 655.24 L419.35 659.27 L422.38 664.52 L425.4 663.71 L429.44 662.3 L432.46 658.27 L435.48 663.31 L440.52 668.95 L443.55 661.29 L446.57 656.85 L449.6 658.27 L452.62 660.28 L457.66 664.92 L461.69 660.89 L464.72 656.25 L468.75 649.6 L472.78 648.79 L475.81 651.21 L479.84 656.85 L482.86 655.24 L485.89 653.23 L487.9 656.85 L490.93 655.24 L492.94 657.26 L494.96 654.23 L497.98 655.65 L500 653.23 L502.42 655.24 L505.04 660.28 L509.07 657.66 L511.09 658.87 L514.11 664.31 L519.15 669.35 L522.18 664.92 L525.2 664.31 L527.82 661.9 L531.25 665.93 L533.27 662.9 L536.29 658.87 L538.31 662.3 L541.33 661.69 L544.35 659.68 L549.4 661.9 L552.42 655.24 L555.44 653.23 L558.06 654.84 L559.48 651.81 L562.5 652.82 L565.52 647.58 L568.55 648.19 L571.57 647.78 L573.59 648.79 L576.21 647.58 L578.63 653.23 L582.66 659.68 L585.69 660.69 L588.71 659.68 L591.73 661.29 L594.76 660.28 L597.78 660.28 L600.81 662.3 L602.82 660.28 L604.84 661.29 L606.85 663.71 L609.88 664.31 L612.9 663.71 L614.92 664.31 L618.95 663.71 L620.97 664.31 L622.98 668.95 L625 666.33 L627.02 661.9 L630.04 662.3 L632.06 661.9 L634.07 665.32 L636.09 664.31 L639.11 657.66 L641.13 658.87 L645.16 667.34 L650.2 672.98 L654.23 667.34 L657.26 664.92 L661.29 667.34 L664.31 663.71 L667.34 663.71 L670.36 661.9 L672.38 664.92 L675.4 662.9 L678.43 665.32 L682.46 671.37 L685.48 672.38 L688.51 671.77 L690.52 671.37 L692.54 667.74 L695.56 667.74 L699.6 661.29 L703.63 654.84 L706.65 651.81 L709.68 655.65 L712.7 656.85 L715.73 655.24 L718.75 655.85 L721.77 652.82 L723.79 654.23 L726.81 653.63 L729.84 659.27 L732.86 661.9 L735.89 661.29 L737.9 658.87 L740.93 659.68 L743.95 660.28 L746.98 664.92 L750 665.32 L752.02 660.28 L754.03 658.27 L758.06 658.27 L760.08 661.29 L764.11 666.33 L767.14 667.74 L770.16 671.37 L772.18 668.35 L775.2 662.3 L778.23 660.28 L780.24 658.27 L782.26 658.87 L783.27 657.66 L784.68 661.9 L788.31 658.87 L791.33 656.25 L793.35 654.84 L796.77 650.81 L800 650.2 L803.43 649.19 L805.44 646.77 L807.46 653.23 L811.49 657.86 L814.52 655.24 L816.53 652.82 L817.54 653.23 L820.56 664.31 L822.58 665.32 L825.6 662.3 L827.62 660.89 L829.64 663.31 L831.65 657.26 L834.68 658.87 L837.7 660.89 L839.72 664.92 L841.73 664.92 L843.75 660.89 L846.77 660.89 L848.79 661.69 L851.81 656.25 L853.83 655.65 L855.85 656.85 L858.87 654.23 L861.9 653.23 L863.91 650.2 L865.93 647.78 L868.95 648.19 L870.97 651.21 L872.98 652.22 L875 651.21 L877.02 645.16 L880.04 644.76 L882.06 647.78 L884.07 648.19 L886.09 647.18 L889.11 657.26 L892.14 660.28 L894.15 661.29 L896.17 663.71" fill="none" stroke="#27a2db" stroke-width="2.1" stroke-linejoin="round"/>
<rect x="1185" y="0" width="1" height="623" fill="#eaecf3"/>
<rect x="1185" y="626" width="1" height="56" fill="#eaecf3"/>
<text transform="translate(1195.5 15.9) scale(1 1.08)" class="ax">3.600,00</text>
<text transform="translate(1195.5 68.9) scale(1 1.08)" class="ax">3.550,00</text>
<text transform="translate(1195.5 122.9) scale(1 1.08)" class="ax">3.500,00</text>
<text transform="translate(1195.5 176.9) scale(1 1.08)" class="ax">3.450,00</text>
<text transform="translate(1195.5 229.9) scale(1 1.08)" class="ax">3.400,00</text>
<text transform="translate(1195.5 283.9) scale(1 1.08)" class="ax">3.350,00</text>
<text transform="translate(1195.5 336.9) scale(1 1.08)" class="ax">3.300,00</text>
<text transform="translate(1195.5 390.9) scale(1 1.08)" class="ax">3.250,00</text>
<text transform="translate(1195.5 444.9) scale(1 1.08)" class="ax">3.200,00</text>
<text transform="translate(1195.5 497.9) scale(1 1.08)" class="ax">3.150,00</text>
<text transform="translate(1195.5 551.9) scale(1 1.08)" class="ax">3.100,00</text>
<text transform="translate(1195.5 604.9) scale(1 1.08)" class="ax">3.050,00</text>
<svg x="1186" y="626" width="54" height="56" overflow="hidden"><text transform="translate(9.5 7) scale(1 1.08)" class="ax">100,00</text></svg>
<path d="M1185 260.5 L1193 251 L1240 251 L1240 270 L1193 270 Z" fill="#f23247"/>
<text transform="translate(1195.5 264) scale(1 1.08)" class="pt">3.368,74</text>
</svg>
</body></html>
